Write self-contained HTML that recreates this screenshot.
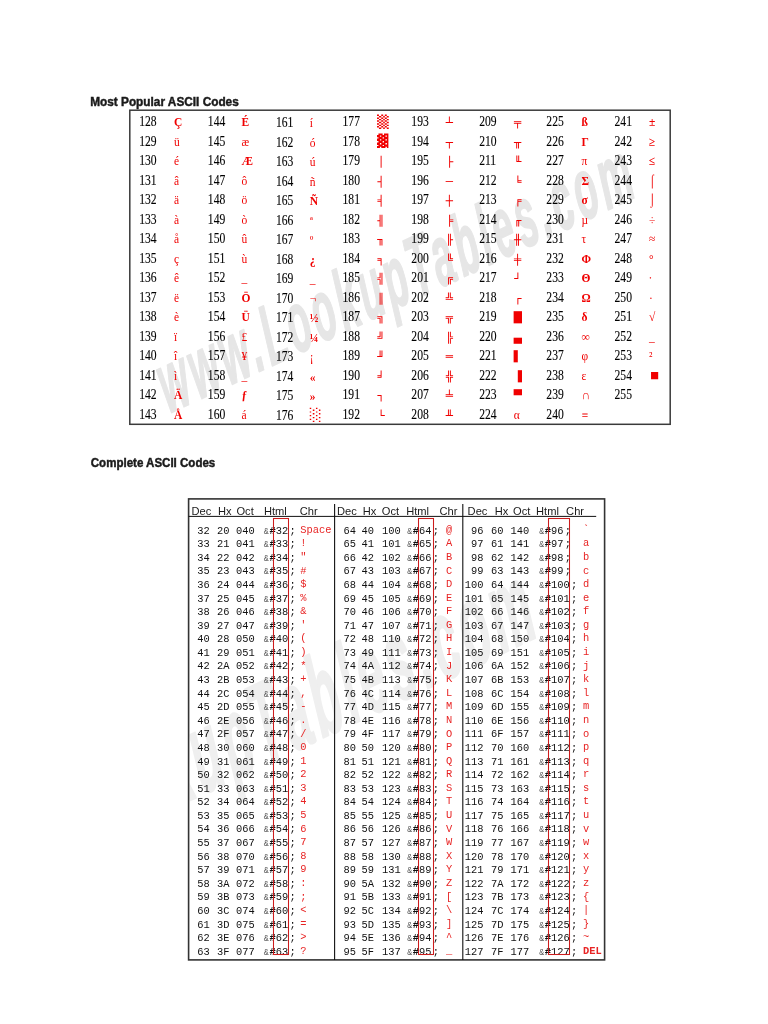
<!DOCTYPE html>
<html><head><meta charset="utf-8"><title>ASCII Codes</title><style>html,body{margin:0;padding:0;background:#fff;overflow:hidden}svg{display:block}.c0{font-family:'Liberation Sans',sans-serif;font-size:12.4px;font-weight:bold;fill:#1a1a1a}.c1{font-family:'Liberation Serif',serif;font-size:13.6px;fill:#000}.c2{font-family:'Liberation Serif',serif;font-size:12.5px;font-weight:bold;fill:#f00000}.c3{font-family:'Liberation Serif',serif;font-size:12.5px;fill:#f00000}.c4{font-family:'DejaVu Sans Mono',monospace;font-size:13px;fill:#f00000}.c5{font-family:'DejaVu Sans Mono',monospace;font-size:12px;font-weight:bold;fill:#f00000}.c6{font-family:'DejaVu Sans Mono',monospace;font-size:13.5px;fill:#f00000}.c7{font-family:'DejaVu Sans Mono',monospace;font-size:12px;fill:#f00000}.c8{font-family:'Liberation Sans',sans-serif;font-size:11.6px;fill:#1a1a1a}.c9{font-family:'Liberation Mono',monospace;font-size:11.5px;text-anchor:end;fill:#111}.c10{font-family:'Liberation Mono',monospace;font-size:11.5px;fill:#111}.c11{font-family:'Liberation Mono',monospace;font-size:9.2px;fill:#555}.c12{font-family:'Liberation Mono',monospace;font-size:11.5px;font-weight:bold;fill:#111}.c13{font-family:'Liberation Mono',monospace;font-size:11.5px;fill:#e82424}.c14{font-family:'Liberation Mono',monospace;font-size:11.5px;font-weight:bold;fill:#e82424}</style></head><body>
<svg width="768" height="1024" viewBox="0 0 768 1024">
<text transform="translate(168.4 413.8) rotate(-24.9) skewX(-7) scale(0.4401 0.978)" textLength="1176.4" lengthAdjust="spacing" style="font-family:'Liberation Sans',sans-serif;font-size:86px;font-weight:bold;font-style:italic" fill="#e6e6e6" stroke="#e6e6e6" stroke-width="2" stroke-linejoin="round">www.LookupTables.com</text>
<defs><clipPath id="c2"><rect x="189.4" y="499.7" width="414.4" height="459.4"/></clipPath></defs>
<g clip-path="url(#c2)"><text transform="translate(-46.4 911.4) rotate(-25.2) skewX(-7) scale(0.5513 1.294)" textLength="1176.4" lengthAdjust="spacing" style="font-family:'Liberation Sans',sans-serif;font-size:86px;font-weight:bold;font-style:italic" fill="#efefef" stroke="#efefef" stroke-width="2" stroke-linejoin="round">www.LookupTables.com</text></g>
<text transform="translate(90.18 106.30) scale(0.953 1.0)" class="c0" stroke="#1a1a1a" stroke-width="0.45">Most Popular ASCII Codes</text>
<text transform="translate(90.78 467.30) scale(0.93 1.0)" class="c0" stroke="#1a1a1a" stroke-width="0.45">Complete ASCII Codes</text>
<rect x="129.8" y="110.2" width="540.40" height="314.10" fill="none" stroke="#3a3a3a" stroke-width="1.5"/>
<text transform="translate(139.25 126.30) scale(0.855 1.0)" class="c1" stroke="#000" stroke-width="0.1">128</text>
<text transform="translate(174.00 126.30) scale(0.92 1.0)" class="c2">Ç</text>
<text transform="translate(139.25 145.79) scale(0.855 1.0)" class="c1" stroke="#000" stroke-width="0.1">129</text>
<text transform="translate(174.00 145.79) scale(0.92 1.0)" class="c3">ü</text>
<text transform="translate(139.25 165.28) scale(0.855 1.0)" class="c1" stroke="#000" stroke-width="0.1">130</text>
<text transform="translate(174.00 165.28) scale(0.92 1.0)" class="c3">é</text>
<text transform="translate(139.25 184.77) scale(0.855 1.0)" class="c1" stroke="#000" stroke-width="0.1">131</text>
<text transform="translate(174.00 184.77) scale(0.92 1.0)" class="c3">â</text>
<text transform="translate(139.25 204.26) scale(0.855 1.0)" class="c1" stroke="#000" stroke-width="0.1">132</text>
<text transform="translate(174.00 204.26) scale(0.92 1.0)" class="c3">ä</text>
<text transform="translate(139.25 223.75) scale(0.855 1.0)" class="c1" stroke="#000" stroke-width="0.1">133</text>
<text transform="translate(174.00 223.75) scale(0.92 1.0)" class="c3">à</text>
<text transform="translate(139.25 243.24) scale(0.855 1.0)" class="c1" stroke="#000" stroke-width="0.1">134</text>
<text transform="translate(174.00 243.24) scale(0.92 1.0)" class="c3">å</text>
<text transform="translate(139.25 262.73) scale(0.855 1.0)" class="c1" stroke="#000" stroke-width="0.1">135</text>
<text transform="translate(174.00 262.73) scale(0.92 1.0)" class="c3">ç</text>
<text transform="translate(139.25 282.22) scale(0.855 1.0)" class="c1" stroke="#000" stroke-width="0.1">136</text>
<text transform="translate(174.00 282.22) scale(0.92 1.0)" class="c3">ê</text>
<text transform="translate(139.25 301.71) scale(0.855 1.0)" class="c1" stroke="#000" stroke-width="0.1">137</text>
<text transform="translate(174.00 301.71) scale(0.92 1.0)" class="c3">ë</text>
<text transform="translate(139.25 321.20) scale(0.855 1.0)" class="c1" stroke="#000" stroke-width="0.1">138</text>
<text transform="translate(174.00 321.20) scale(0.92 1.0)" class="c3">è</text>
<text transform="translate(139.25 340.69) scale(0.855 1.0)" class="c1" stroke="#000" stroke-width="0.1">139</text>
<text transform="translate(174.00 340.69) scale(0.92 1.0)" class="c3">ï</text>
<text transform="translate(139.25 360.18) scale(0.855 1.0)" class="c1" stroke="#000" stroke-width="0.1">140</text>
<text transform="translate(174.00 360.18) scale(0.92 1.0)" class="c3">î</text>
<text transform="translate(139.25 379.67) scale(0.855 1.0)" class="c1" stroke="#000" stroke-width="0.1">141</text>
<text transform="translate(174.00 379.67) scale(0.92 1.0)" class="c3">ì</text>
<text transform="translate(139.25 399.16) scale(0.855 1.0)" class="c1" stroke="#000" stroke-width="0.1">142</text>
<text transform="translate(174.00 399.16) scale(0.92 1.0)" class="c2">Ä</text>
<text transform="translate(139.25 418.65) scale(0.855 1.0)" class="c1" stroke="#000" stroke-width="0.1">143</text>
<text transform="translate(174.00 418.65) scale(0.92 1.0)" class="c2">Å</text>
<text transform="translate(207.85 126.30) scale(0.855 1.0)" class="c1" stroke="#000" stroke-width="0.1">144</text>
<text transform="translate(241.40 126.30) scale(0.92 1.0)" class="c2">É</text>
<text transform="translate(207.85 145.79) scale(0.855 1.0)" class="c1" stroke="#000" stroke-width="0.1">145</text>
<text transform="translate(241.40 145.79) scale(0.92 1.0)" class="c3">æ</text>
<text transform="translate(207.85 165.28) scale(0.855 1.0)" class="c1" stroke="#000" stroke-width="0.1">146</text>
<text transform="translate(241.40 165.28) scale(0.92 1.0)" class="c2">Æ</text>
<text transform="translate(207.85 184.77) scale(0.855 1.0)" class="c1" stroke="#000" stroke-width="0.1">147</text>
<text transform="translate(241.40 184.77) scale(0.92 1.0)" class="c3">ô</text>
<text transform="translate(207.85 204.26) scale(0.855 1.0)" class="c1" stroke="#000" stroke-width="0.1">148</text>
<text transform="translate(241.40 204.26) scale(0.92 1.0)" class="c3">ö</text>
<text transform="translate(207.85 223.75) scale(0.855 1.0)" class="c1" stroke="#000" stroke-width="0.1">149</text>
<text transform="translate(241.40 223.75) scale(0.92 1.0)" class="c3">ò</text>
<text transform="translate(207.85 243.24) scale(0.855 1.0)" class="c1" stroke="#000" stroke-width="0.1">150</text>
<text transform="translate(241.40 243.24) scale(0.92 1.0)" class="c3">û</text>
<text transform="translate(207.85 262.73) scale(0.855 1.0)" class="c1" stroke="#000" stroke-width="0.1">151</text>
<text transform="translate(241.40 262.73) scale(0.92 1.0)" class="c3">ù</text>
<text transform="translate(207.85 282.22) scale(0.855 1.0)" class="c1" stroke="#000" stroke-width="0.1">152</text>
<text transform="translate(241.40 282.22) scale(0.92 1.0)" class="c3">_</text>
<text transform="translate(207.85 301.71) scale(0.855 1.0)" class="c1" stroke="#000" stroke-width="0.1">153</text>
<text transform="translate(241.40 301.71) scale(0.92 1.0)" class="c2">Ö</text>
<text transform="translate(207.85 321.20) scale(0.855 1.0)" class="c1" stroke="#000" stroke-width="0.1">154</text>
<text transform="translate(241.40 321.20) scale(0.92 1.0)" class="c2">Ü</text>
<text transform="translate(207.85 340.69) scale(0.855 1.0)" class="c1" stroke="#000" stroke-width="0.1">156</text>
<text transform="translate(241.40 340.69) scale(0.92 1.0)" class="c3">£</text>
<text transform="translate(207.85 360.18) scale(0.855 1.0)" class="c1" stroke="#000" stroke-width="0.1">157</text>
<text transform="translate(241.40 360.18) scale(0.92 1.0)" class="c3">¥</text>
<text transform="translate(207.85 379.67) scale(0.855 1.0)" class="c1" stroke="#000" stroke-width="0.1">158</text>
<text transform="translate(241.40 379.67) scale(0.92 1.0)" class="c3">_</text>
<text transform="translate(207.85 399.16) scale(0.855 1.0)" class="c1" stroke="#000" stroke-width="0.1">159</text>
<text transform="translate(241.40 399.16) scale(0.92 1.0)" class="c2">ƒ</text>
<text transform="translate(207.85 418.65) scale(0.855 1.0)" class="c1" stroke="#000" stroke-width="0.1">160</text>
<text transform="translate(241.40 418.65) scale(0.92 1.0)" class="c3">á</text>
<text transform="translate(275.95 127.30) scale(0.855 1.0)" class="c1" stroke="#000" stroke-width="0.1">161</text>
<text transform="translate(309.80 127.30) scale(0.92 1.0)" class="c3">í</text>
<text transform="translate(275.95 146.79) scale(0.855 1.0)" class="c1" stroke="#000" stroke-width="0.1">162</text>
<text transform="translate(309.80 146.79) scale(0.92 1.0)" class="c3">ó</text>
<text transform="translate(275.95 166.28) scale(0.855 1.0)" class="c1" stroke="#000" stroke-width="0.1">163</text>
<text transform="translate(309.80 166.28) scale(0.92 1.0)" class="c3">ú</text>
<text transform="translate(275.95 185.77) scale(0.855 1.0)" class="c1" stroke="#000" stroke-width="0.1">164</text>
<text transform="translate(309.80 185.77) scale(0.92 1.0)" class="c3">ñ</text>
<text transform="translate(275.95 205.26) scale(0.855 1.0)" class="c1" stroke="#000" stroke-width="0.1">165</text>
<text transform="translate(309.80 205.26) scale(0.92 1.0)" class="c2">Ñ</text>
<text transform="translate(275.95 224.75) scale(0.855 1.0)" class="c1" stroke="#000" stroke-width="0.1">166</text>
<text transform="translate(309.80 224.75) scale(0.92 1.0)" class="c3">ª</text>
<text transform="translate(275.95 244.24) scale(0.855 1.0)" class="c1" stroke="#000" stroke-width="0.1">167</text>
<text transform="translate(309.80 244.24) scale(0.92 1.0)" class="c3">º</text>
<text transform="translate(275.95 263.73) scale(0.855 1.0)" class="c1" stroke="#000" stroke-width="0.1">168</text>
<text transform="translate(309.80 263.73) scale(0.92 1.0)" class="c2">¿</text>
<text transform="translate(275.95 283.22) scale(0.855 1.0)" class="c1" stroke="#000" stroke-width="0.1">169</text>
<text transform="translate(309.80 283.22) scale(0.92 1.0)" class="c3">_</text>
<text transform="translate(275.95 302.71) scale(0.855 1.0)" class="c1" stroke="#000" stroke-width="0.1">170</text>
<text transform="translate(309.80 302.71) scale(0.92 1.0)" class="c3">¬</text>
<text transform="translate(275.95 322.20) scale(0.855 1.0)" class="c1" stroke="#000" stroke-width="0.1">171</text>
<text transform="translate(309.80 322.20) scale(0.92 1.0)" class="c2">½</text>
<text transform="translate(275.95 341.69) scale(0.855 1.0)" class="c1" stroke="#000" stroke-width="0.1">172</text>
<text transform="translate(309.80 341.69) scale(0.92 1.0)" class="c2">¼</text>
<text transform="translate(275.95 361.18) scale(0.855 1.0)" class="c1" stroke="#000" stroke-width="0.1">173</text>
<text transform="translate(309.80 361.18) scale(0.92 1.0)" class="c3">¡</text>
<text transform="translate(275.95 380.67) scale(0.855 1.0)" class="c1" stroke="#000" stroke-width="0.1">174</text>
<text transform="translate(309.80 380.67) scale(0.92 1.0)" class="c2">«</text>
<text transform="translate(275.95 400.16) scale(0.855 1.0)" class="c1" stroke="#000" stroke-width="0.1">175</text>
<text transform="translate(309.80 400.16) scale(0.92 1.0)" class="c2">»</text>
<text transform="translate(275.95 419.65) scale(0.855 1.0)" class="c1" stroke="#000" stroke-width="0.1">176</text>
<text transform="translate(309.80 419.15) scale(1.5 0.95)" class="c4">░</text>
<text transform="translate(342.55 126.30) scale(0.855 1.0)" class="c1" stroke="#000" stroke-width="0.1">177</text>
<text transform="translate(376.90 125.80) scale(1.5 0.95)" class="c4">▒</text>
<text transform="translate(342.55 145.79) scale(0.855 1.0)" class="c1" stroke="#000" stroke-width="0.1">178</text>
<text transform="translate(376.90 145.29) scale(1.5 0.95)" class="c4">▓</text>
<text transform="translate(342.55 165.28) scale(0.855 1.0)" class="c1" stroke="#000" stroke-width="0.1">179</text>
<text transform="translate(377.20 165.28) scale(1.0 0.845)" class="c5">│</text>
<text transform="translate(342.55 184.77) scale(0.855 1.0)" class="c1" stroke="#000" stroke-width="0.1">180</text>
<text transform="translate(377.20 184.77) scale(1.0 0.845)" class="c5">┤</text>
<text transform="translate(342.55 204.26) scale(0.855 1.0)" class="c1" stroke="#000" stroke-width="0.1">181</text>
<text transform="translate(377.20 204.26) scale(1.0 0.845)" class="c5">╡</text>
<text transform="translate(342.55 223.75) scale(0.855 1.0)" class="c1" stroke="#000" stroke-width="0.1">182</text>
<text transform="translate(377.20 223.75) scale(1.0 0.845)" class="c5">╢</text>
<text transform="translate(342.55 243.24) scale(0.855 1.0)" class="c1" stroke="#000" stroke-width="0.1">183</text>
<text transform="translate(377.20 243.24) scale(1.0 0.845)" class="c5">╖</text>
<text transform="translate(342.55 262.73) scale(0.855 1.0)" class="c1" stroke="#000" stroke-width="0.1">184</text>
<text transform="translate(377.20 262.73) scale(1.0 0.845)" class="c5">╕</text>
<text transform="translate(342.55 282.22) scale(0.855 1.0)" class="c1" stroke="#000" stroke-width="0.1">185</text>
<text transform="translate(377.20 282.22) scale(1.0 0.845)" class="c5">╣</text>
<text transform="translate(342.55 301.71) scale(0.855 1.0)" class="c1" stroke="#000" stroke-width="0.1">186</text>
<text transform="translate(377.20 301.71) scale(1.0 0.845)" class="c5">║</text>
<text transform="translate(342.55 321.20) scale(0.855 1.0)" class="c1" stroke="#000" stroke-width="0.1">187</text>
<text transform="translate(377.20 321.20) scale(1.0 0.845)" class="c5">╗</text>
<text transform="translate(342.55 340.69) scale(0.855 1.0)" class="c1" stroke="#000" stroke-width="0.1">188</text>
<text transform="translate(377.20 340.69) scale(1.0 0.845)" class="c5">╝</text>
<text transform="translate(342.55 360.18) scale(0.855 1.0)" class="c1" stroke="#000" stroke-width="0.1">189</text>
<text transform="translate(377.20 360.18) scale(1.0 0.845)" class="c5">╜</text>
<text transform="translate(342.55 379.67) scale(0.855 1.0)" class="c1" stroke="#000" stroke-width="0.1">190</text>
<text transform="translate(377.20 379.67) scale(1.0 0.845)" class="c5">╛</text>
<text transform="translate(342.55 399.16) scale(0.855 1.0)" class="c1" stroke="#000" stroke-width="0.1">191</text>
<text transform="translate(377.20 399.16) scale(1.0 0.845)" class="c5">┐</text>
<text transform="translate(342.55 418.65) scale(0.855 1.0)" class="c1" stroke="#000" stroke-width="0.1">192</text>
<text transform="translate(377.20 418.65) scale(1.0 0.845)" class="c5">└</text>
<text transform="translate(411.35 126.30) scale(0.855 1.0)" class="c1" stroke="#000" stroke-width="0.1">193</text>
<text transform="translate(445.80 126.30) scale(1.0 0.845)" class="c5">┴</text>
<text transform="translate(411.35 145.79) scale(0.855 1.0)" class="c1" stroke="#000" stroke-width="0.1">194</text>
<text transform="translate(445.80 145.79) scale(1.0 0.845)" class="c5">┬</text>
<text transform="translate(411.35 165.28) scale(0.855 1.0)" class="c1" stroke="#000" stroke-width="0.1">195</text>
<text transform="translate(445.80 165.28) scale(1.0 0.845)" class="c5">├</text>
<text transform="translate(411.35 184.77) scale(0.855 1.0)" class="c1" stroke="#000" stroke-width="0.1">196</text>
<text transform="translate(445.80 184.77) scale(1.0 0.845)" class="c5">─</text>
<text transform="translate(411.35 204.26) scale(0.855 1.0)" class="c1" stroke="#000" stroke-width="0.1">197</text>
<text transform="translate(445.80 204.26) scale(1.0 0.845)" class="c5">┼</text>
<text transform="translate(411.35 223.75) scale(0.855 1.0)" class="c1" stroke="#000" stroke-width="0.1">198</text>
<text transform="translate(445.80 223.75) scale(1.0 0.845)" class="c5">╞</text>
<text transform="translate(411.35 243.24) scale(0.855 1.0)" class="c1" stroke="#000" stroke-width="0.1">199</text>
<text transform="translate(445.80 243.24) scale(1.0 0.845)" class="c5">╟</text>
<text transform="translate(411.35 262.73) scale(0.855 1.0)" class="c1" stroke="#000" stroke-width="0.1">200</text>
<text transform="translate(445.80 262.73) scale(1.0 0.845)" class="c5">╚</text>
<text transform="translate(411.35 282.22) scale(0.855 1.0)" class="c1" stroke="#000" stroke-width="0.1">201</text>
<text transform="translate(445.80 282.22) scale(1.0 0.845)" class="c5">╔</text>
<text transform="translate(411.35 301.71) scale(0.855 1.0)" class="c1" stroke="#000" stroke-width="0.1">202</text>
<text transform="translate(445.80 301.71) scale(1.0 0.845)" class="c5">╩</text>
<text transform="translate(411.35 321.20) scale(0.855 1.0)" class="c1" stroke="#000" stroke-width="0.1">203</text>
<text transform="translate(445.80 321.20) scale(1.0 0.845)" class="c5">╦</text>
<text transform="translate(411.35 340.69) scale(0.855 1.0)" class="c1" stroke="#000" stroke-width="0.1">204</text>
<text transform="translate(445.80 340.69) scale(1.0 0.845)" class="c5">╠</text>
<text transform="translate(411.35 360.18) scale(0.855 1.0)" class="c1" stroke="#000" stroke-width="0.1">205</text>
<text transform="translate(445.80 360.18) scale(1.0 0.845)" class="c5">═</text>
<text transform="translate(411.35 379.67) scale(0.855 1.0)" class="c1" stroke="#000" stroke-width="0.1">206</text>
<text transform="translate(445.80 379.67) scale(1.0 0.845)" class="c5">╬</text>
<text transform="translate(411.35 399.16) scale(0.855 1.0)" class="c1" stroke="#000" stroke-width="0.1">207</text>
<text transform="translate(445.80 399.16) scale(1.0 0.845)" class="c5">╧</text>
<text transform="translate(411.35 418.65) scale(0.855 1.0)" class="c1" stroke="#000" stroke-width="0.1">208</text>
<text transform="translate(445.80 418.65) scale(1.0 0.845)" class="c5">╨</text>
<text transform="translate(479.15 126.30) scale(0.855 1.0)" class="c1" stroke="#000" stroke-width="0.1">209</text>
<text transform="translate(514.10 126.30) scale(1.0 0.845)" class="c5">╤</text>
<text transform="translate(479.15 145.79) scale(0.855 1.0)" class="c1" stroke="#000" stroke-width="0.1">210</text>
<text transform="translate(514.10 145.79) scale(1.0 0.845)" class="c5">╥</text>
<text transform="translate(479.15 165.28) scale(0.855 1.0)" class="c1" stroke="#000" stroke-width="0.1">211</text>
<text transform="translate(514.10 165.28) scale(1.0 0.845)" class="c5">╙</text>
<text transform="translate(479.15 184.77) scale(0.855 1.0)" class="c1" stroke="#000" stroke-width="0.1">212</text>
<text transform="translate(514.10 184.77) scale(1.0 0.845)" class="c5">╘</text>
<text transform="translate(479.15 204.26) scale(0.855 1.0)" class="c1" stroke="#000" stroke-width="0.1">213</text>
<text transform="translate(514.10 204.26) scale(1.0 0.845)" class="c5">╒</text>
<text transform="translate(479.15 223.75) scale(0.855 1.0)" class="c1" stroke="#000" stroke-width="0.1">214</text>
<text transform="translate(514.10 223.75) scale(1.0 0.845)" class="c5">╓</text>
<text transform="translate(479.15 243.24) scale(0.855 1.0)" class="c1" stroke="#000" stroke-width="0.1">215</text>
<text transform="translate(514.10 243.24) scale(1.0 0.845)" class="c5">╫</text>
<text transform="translate(479.15 262.73) scale(0.855 1.0)" class="c1" stroke="#000" stroke-width="0.1">216</text>
<text transform="translate(514.10 262.73) scale(1.0 0.845)" class="c5">╪</text>
<text transform="translate(479.15 282.22) scale(0.855 1.0)" class="c1" stroke="#000" stroke-width="0.1">217</text>
<text transform="translate(514.10 282.22) scale(1.0 0.845)" class="c5">┘</text>
<text transform="translate(479.15 301.71) scale(0.855 1.0)" class="c1" stroke="#000" stroke-width="0.1">218</text>
<text transform="translate(514.10 301.71) scale(1.0 0.845)" class="c5">┌</text>
<text transform="translate(479.15 321.20) scale(0.855 1.0)" class="c1" stroke="#000" stroke-width="0.1">219</text>
<text transform="translate(513.80 321.20) scale(1.0 0.76)" class="c6">█</text>
<text transform="translate(479.15 340.69) scale(0.855 1.0)" class="c1" stroke="#000" stroke-width="0.1">220</text>
<text transform="translate(513.80 340.69) scale(1.0 0.76)" class="c6">▄</text>
<text transform="translate(479.15 360.18) scale(0.855 1.0)" class="c1" stroke="#000" stroke-width="0.1">221</text>
<text transform="translate(513.80 360.18) scale(1.0 0.76)" class="c6">▌</text>
<text transform="translate(479.15 379.67) scale(0.855 1.0)" class="c1" stroke="#000" stroke-width="0.1">222</text>
<text transform="translate(513.80 379.67) scale(1.0 0.76)" class="c6">▐</text>
<text transform="translate(479.15 399.16) scale(0.855 1.0)" class="c1" stroke="#000" stroke-width="0.1">223</text>
<text transform="translate(513.80 399.16) scale(1.0 0.76)" class="c6">▀</text>
<text transform="translate(479.15 418.65) scale(0.855 1.0)" class="c1" stroke="#000" stroke-width="0.1">224</text>
<text transform="translate(513.80 418.65) scale(0.92 1.0)" class="c3">α</text>
<text transform="translate(546.35 126.30) scale(0.855 1.0)" class="c1" stroke="#000" stroke-width="0.1">225</text>
<text transform="translate(581.50 126.30) scale(0.92 1.0)" class="c2">ß</text>
<text transform="translate(546.35 145.79) scale(0.855 1.0)" class="c1" stroke="#000" stroke-width="0.1">226</text>
<text transform="translate(581.50 145.79) scale(0.92 1.0)" class="c2">Γ</text>
<text transform="translate(546.35 165.28) scale(0.855 1.0)" class="c1" stroke="#000" stroke-width="0.1">227</text>
<text transform="translate(581.50 165.28) scale(0.92 1.0)" class="c3">π</text>
<text transform="translate(546.35 184.77) scale(0.855 1.0)" class="c1" stroke="#000" stroke-width="0.1">228</text>
<text transform="translate(581.50 184.77) scale(0.92 1.0)" class="c2">Σ</text>
<text transform="translate(546.35 204.26) scale(0.855 1.0)" class="c1" stroke="#000" stroke-width="0.1">229</text>
<text transform="translate(581.50 204.26) scale(0.92 1.0)" class="c2">σ</text>
<text transform="translate(546.35 223.75) scale(0.855 1.0)" class="c1" stroke="#000" stroke-width="0.1">230</text>
<text transform="translate(581.50 223.75) scale(0.92 1.0)" class="c3">µ</text>
<text transform="translate(546.35 243.24) scale(0.855 1.0)" class="c1" stroke="#000" stroke-width="0.1">231</text>
<text transform="translate(581.50 243.24) scale(0.92 1.0)" class="c3">τ</text>
<text transform="translate(546.35 262.73) scale(0.855 1.0)" class="c1" stroke="#000" stroke-width="0.1">232</text>
<text transform="translate(581.50 262.73) scale(0.92 1.0)" class="c2">Φ</text>
<text transform="translate(546.35 282.22) scale(0.855 1.0)" class="c1" stroke="#000" stroke-width="0.1">233</text>
<text transform="translate(581.50 282.22) scale(0.92 1.0)" class="c2">Θ</text>
<text transform="translate(546.35 301.71) scale(0.855 1.0)" class="c1" stroke="#000" stroke-width="0.1">234</text>
<text transform="translate(581.50 301.71) scale(0.92 1.0)" class="c2">Ω</text>
<text transform="translate(546.35 321.20) scale(0.855 1.0)" class="c1" stroke="#000" stroke-width="0.1">235</text>
<text transform="translate(581.50 321.20) scale(0.92 1.0)" class="c2">δ</text>
<text transform="translate(546.35 340.69) scale(0.855 1.0)" class="c1" stroke="#000" stroke-width="0.1">236</text>
<text transform="translate(581.50 340.69) scale(0.92 1.0)" class="c2">∞</text>
<text transform="translate(546.35 360.18) scale(0.855 1.0)" class="c1" stroke="#000" stroke-width="0.1">237</text>
<text transform="translate(581.50 360.18) scale(0.92 1.0)" class="c3">φ</text>
<text transform="translate(546.35 379.67) scale(0.855 1.0)" class="c1" stroke="#000" stroke-width="0.1">238</text>
<text transform="translate(581.50 379.67) scale(0.92 1.0)" class="c3">ε</text>
<text transform="translate(546.35 399.16) scale(0.855 1.0)" class="c1" stroke="#000" stroke-width="0.1">239</text>
<text transform="translate(581.50 399.16) scale(0.92 1.0)" class="c3">∩</text>
<text transform="translate(546.35 418.65) scale(0.855 1.0)" class="c1" stroke="#000" stroke-width="0.1">240</text>
<text transform="translate(581.50 418.65) scale(0.92 1.0)" class="c3">≡</text>
<text transform="translate(614.55 126.30) scale(0.855 1.0)" class="c1" stroke="#000" stroke-width="0.1">241</text>
<text transform="translate(649.00 126.30) scale(0.92 1.0)" class="c2">±</text>
<text transform="translate(614.55 145.79) scale(0.855 1.0)" class="c1" stroke="#000" stroke-width="0.1">242</text>
<text transform="translate(649.00 145.79) scale(0.92 1.0)" class="c2">≥</text>
<text transform="translate(614.55 165.28) scale(0.855 1.0)" class="c1" stroke="#000" stroke-width="0.1">243</text>
<text transform="translate(649.00 165.28) scale(0.92 1.0)" class="c2">≤</text>
<text transform="translate(614.55 184.77) scale(0.855 1.0)" class="c1" stroke="#000" stroke-width="0.1">244</text>
<text transform="translate(649.00 184.77) scale(0.92 1.0)" class="c3">⌠</text>
<text transform="translate(614.55 204.26) scale(0.855 1.0)" class="c1" stroke="#000" stroke-width="0.1">245</text>
<text transform="translate(649.00 204.26) scale(0.92 1.0)" class="c3">⌡</text>
<text transform="translate(614.55 223.75) scale(0.855 1.0)" class="c1" stroke="#000" stroke-width="0.1">246</text>
<text transform="translate(649.00 223.75) scale(0.92 1.0)" class="c3">÷</text>
<text transform="translate(614.55 243.24) scale(0.855 1.0)" class="c1" stroke="#000" stroke-width="0.1">247</text>
<text transform="translate(649.00 243.24) scale(0.92 1.0)" class="c3">≈</text>
<text transform="translate(614.55 262.73) scale(0.855 1.0)" class="c1" stroke="#000" stroke-width="0.1">248</text>
<text transform="translate(649.00 262.73) scale(0.92 1.0)" class="c3">°</text>
<text transform="translate(614.55 282.22) scale(0.855 1.0)" class="c1" stroke="#000" stroke-width="0.1">249</text>
<text transform="translate(649.00 282.22) scale(0.92 1.0)" class="c3">∙</text>
<text transform="translate(614.55 301.71) scale(0.855 1.0)" class="c1" stroke="#000" stroke-width="0.1">250</text>
<text transform="translate(649.00 301.71) scale(0.92 1.0)" class="c3">·</text>
<text transform="translate(614.55 321.20) scale(0.855 1.0)" class="c1" stroke="#000" stroke-width="0.1">251</text>
<text transform="translate(649.00 321.20) scale(0.92 1.0)" class="c3">√</text>
<text transform="translate(614.55 340.69) scale(0.855 1.0)" class="c1" stroke="#000" stroke-width="0.1">252</text>
<text transform="translate(649.00 340.69) scale(0.92 1.0)" class="c3">_</text>
<text transform="translate(614.55 360.18) scale(0.855 1.0)" class="c1" stroke="#000" stroke-width="0.1">253</text>
<text transform="translate(649.00 360.18) scale(0.92 1.0)" class="c3">²</text>
<text transform="translate(614.55 379.67) scale(0.855 1.0)" class="c1" stroke="#000" stroke-width="0.1">254</text>
<text x="651.00" y="378.67" class="c7">■</text>
<text transform="translate(614.55 399.16) scale(0.855 1.0)" class="c1" stroke="#000" stroke-width="0.1">255</text>
<rect x="188.6" y="498.9" width="416.00" height="461.00" fill="none" stroke="#333" stroke-width="1.6"/>
<line x1="188.6" y1="516.4" x2="596.2" y2="516.4" stroke="#111" stroke-width="1"/>
<line x1="334.6" y1="504" x2="334.6" y2="959.9" stroke="#111" stroke-width="1.1"/>
<line x1="462.8" y1="504" x2="462.8" y2="959.9" stroke="#111" stroke-width="1.1"/>
<text transform="translate(191.51 515.20) scale(0.96 1.0)" class="c8">Dec</text>
<text transform="translate(217.91 515.20) scale(0.96 1.0)" class="c8">Hx</text>
<text transform="translate(236.41 515.20) scale(0.96 1.0)" class="c8">Oct</text>
<text transform="translate(263.91 515.20) scale(0.96 1.0)" class="c8">Html</text>
<text transform="translate(299.71 515.20) scale(0.96 1.0)" class="c8">Chr</text>
<text transform="translate(336.91 515.20) scale(0.96 1.0)" class="c8">Dec</text>
<text transform="translate(362.71 515.20) scale(0.96 1.0)" class="c8">Hx</text>
<text transform="translate(381.81 515.20) scale(0.96 1.0)" class="c8">Oct</text>
<text transform="translate(406.21 515.20) scale(0.96 1.0)" class="c8">Html</text>
<text transform="translate(439.51 515.20) scale(0.96 1.0)" class="c8">Chr</text>
<text transform="translate(467.61 515.20) scale(0.96 1.0)" class="c8">Dec</text>
<text transform="translate(494.71 515.20) scale(0.96 1.0)" class="c8">Hx</text>
<text transform="translate(513.11 515.20) scale(0.96 1.0)" class="c8">Oct</text>
<text transform="translate(536.01 515.20) scale(0.96 1.0)" class="c8">Html</text>
<text transform="translate(566.11 515.20) scale(0.96 1.0)" class="c8">Chr</text>
<text transform="translate(209.80 533.60) scale(0.905 1.0)" class="c9">32</text>
<text transform="translate(217.00 533.60) scale(0.905 1.0)" class="c10">20</text>
<text transform="translate(236.00 533.60) scale(0.905 1.0)" class="c10">040</text>
<text transform="translate(263.80 533.60) scale(0.905 1.0)" class="c11">&amp;</text>
<text transform="translate(269.44 533.60) scale(0.905 1.0)" class="c12">#</text>
<text transform="translate(275.69 533.60) scale(0.905 1.0)" class="c10">32</text>
<text transform="translate(289.38 533.60) scale(0.905 1.0)" class="c10">;</text>
<text transform="translate(300.20 532.80) scale(0.905 1.0)" class="c13">Space</text>
<text transform="translate(209.80 547.18) scale(0.905 1.0)" class="c9">33</text>
<text transform="translate(217.00 547.18) scale(0.905 1.0)" class="c10">21</text>
<text transform="translate(236.00 547.18) scale(0.905 1.0)" class="c10">041</text>
<text transform="translate(263.80 547.18) scale(0.905 1.0)" class="c11">&amp;</text>
<text transform="translate(269.44 547.18) scale(0.905 1.0)" class="c12">#</text>
<text transform="translate(275.69 547.18) scale(0.905 1.0)" class="c10">33</text>
<text transform="translate(289.38 547.18) scale(0.905 1.0)" class="c10">;</text>
<text transform="translate(300.20 546.38) scale(0.905 1.0)" class="c13">!</text>
<text transform="translate(209.80 560.77) scale(0.905 1.0)" class="c9">34</text>
<text transform="translate(217.00 560.77) scale(0.905 1.0)" class="c10">22</text>
<text transform="translate(236.00 560.77) scale(0.905 1.0)" class="c10">042</text>
<text transform="translate(263.80 560.77) scale(0.905 1.0)" class="c11">&amp;</text>
<text transform="translate(269.44 560.77) scale(0.905 1.0)" class="c12">#</text>
<text transform="translate(275.69 560.77) scale(0.905 1.0)" class="c10">34</text>
<text transform="translate(289.38 560.77) scale(0.905 1.0)" class="c10">;</text>
<text transform="translate(300.20 559.97) scale(0.905 1.0)" class="c13">&quot;</text>
<text transform="translate(209.80 574.35) scale(0.905 1.0)" class="c9">35</text>
<text transform="translate(217.00 574.35) scale(0.905 1.0)" class="c10">23</text>
<text transform="translate(236.00 574.35) scale(0.905 1.0)" class="c10">043</text>
<text transform="translate(263.80 574.35) scale(0.905 1.0)" class="c11">&amp;</text>
<text transform="translate(269.44 574.35) scale(0.905 1.0)" class="c12">#</text>
<text transform="translate(275.69 574.35) scale(0.905 1.0)" class="c10">35</text>
<text transform="translate(289.38 574.35) scale(0.905 1.0)" class="c10">;</text>
<text transform="translate(300.20 573.55) scale(0.905 1.0)" class="c13">#</text>
<text transform="translate(209.80 587.94) scale(0.905 1.0)" class="c9">36</text>
<text transform="translate(217.00 587.94) scale(0.905 1.0)" class="c10">24</text>
<text transform="translate(236.00 587.94) scale(0.905 1.0)" class="c10">044</text>
<text transform="translate(263.80 587.94) scale(0.905 1.0)" class="c11">&amp;</text>
<text transform="translate(269.44 587.94) scale(0.905 1.0)" class="c12">#</text>
<text transform="translate(275.69 587.94) scale(0.905 1.0)" class="c10">36</text>
<text transform="translate(289.38 587.94) scale(0.905 1.0)" class="c10">;</text>
<text transform="translate(300.20 587.14) scale(0.905 1.0)" class="c13">$</text>
<text transform="translate(209.80 601.52) scale(0.905 1.0)" class="c9">37</text>
<text transform="translate(217.00 601.52) scale(0.905 1.0)" class="c10">25</text>
<text transform="translate(236.00 601.52) scale(0.905 1.0)" class="c10">045</text>
<text transform="translate(263.80 601.52) scale(0.905 1.0)" class="c11">&amp;</text>
<text transform="translate(269.44 601.52) scale(0.905 1.0)" class="c12">#</text>
<text transform="translate(275.69 601.52) scale(0.905 1.0)" class="c10">37</text>
<text transform="translate(289.38 601.52) scale(0.905 1.0)" class="c10">;</text>
<text transform="translate(300.20 600.72) scale(0.905 1.0)" class="c13">%</text>
<text transform="translate(209.80 615.10) scale(0.905 1.0)" class="c9">38</text>
<text transform="translate(217.00 615.10) scale(0.905 1.0)" class="c10">26</text>
<text transform="translate(236.00 615.10) scale(0.905 1.0)" class="c10">046</text>
<text transform="translate(263.80 615.10) scale(0.905 1.0)" class="c11">&amp;</text>
<text transform="translate(269.44 615.10) scale(0.905 1.0)" class="c12">#</text>
<text transform="translate(275.69 615.10) scale(0.905 1.0)" class="c10">38</text>
<text transform="translate(289.38 615.10) scale(0.905 1.0)" class="c10">;</text>
<text transform="translate(300.20 614.30) scale(0.905 1.0)" class="c13">&amp;</text>
<text transform="translate(209.80 628.69) scale(0.905 1.0)" class="c9">39</text>
<text transform="translate(217.00 628.69) scale(0.905 1.0)" class="c10">27</text>
<text transform="translate(236.00 628.69) scale(0.905 1.0)" class="c10">047</text>
<text transform="translate(263.80 628.69) scale(0.905 1.0)" class="c11">&amp;</text>
<text transform="translate(269.44 628.69) scale(0.905 1.0)" class="c12">#</text>
<text transform="translate(275.69 628.69) scale(0.905 1.0)" class="c10">39</text>
<text transform="translate(289.38 628.69) scale(0.905 1.0)" class="c10">;</text>
<text transform="translate(300.20 627.89) scale(0.905 1.0)" class="c13">&#x27;</text>
<text transform="translate(209.80 642.27) scale(0.905 1.0)" class="c9">40</text>
<text transform="translate(217.00 642.27) scale(0.905 1.0)" class="c10">28</text>
<text transform="translate(236.00 642.27) scale(0.905 1.0)" class="c10">050</text>
<text transform="translate(263.80 642.27) scale(0.905 1.0)" class="c11">&amp;</text>
<text transform="translate(269.44 642.27) scale(0.905 1.0)" class="c12">#</text>
<text transform="translate(275.69 642.27) scale(0.905 1.0)" class="c10">40</text>
<text transform="translate(289.38 642.27) scale(0.905 1.0)" class="c10">;</text>
<text transform="translate(300.20 641.47) scale(0.905 1.0)" class="c13">(</text>
<text transform="translate(209.80 655.86) scale(0.905 1.0)" class="c9">41</text>
<text transform="translate(217.00 655.86) scale(0.905 1.0)" class="c10">29</text>
<text transform="translate(236.00 655.86) scale(0.905 1.0)" class="c10">051</text>
<text transform="translate(263.80 655.86) scale(0.905 1.0)" class="c11">&amp;</text>
<text transform="translate(269.44 655.86) scale(0.905 1.0)" class="c12">#</text>
<text transform="translate(275.69 655.86) scale(0.905 1.0)" class="c10">41</text>
<text transform="translate(289.38 655.86) scale(0.905 1.0)" class="c10">;</text>
<text transform="translate(300.20 655.06) scale(0.905 1.0)" class="c13">)</text>
<text transform="translate(209.80 669.44) scale(0.905 1.0)" class="c9">42</text>
<text transform="translate(217.00 669.44) scale(0.905 1.0)" class="c10">2A</text>
<text transform="translate(236.00 669.44) scale(0.905 1.0)" class="c10">052</text>
<text transform="translate(263.80 669.44) scale(0.905 1.0)" class="c11">&amp;</text>
<text transform="translate(269.44 669.44) scale(0.905 1.0)" class="c12">#</text>
<text transform="translate(275.69 669.44) scale(0.905 1.0)" class="c10">42</text>
<text transform="translate(289.38 669.44) scale(0.905 1.0)" class="c10">;</text>
<text transform="translate(300.20 668.64) scale(0.905 1.0)" class="c13">*</text>
<text transform="translate(209.80 683.02) scale(0.905 1.0)" class="c9">43</text>
<text transform="translate(217.00 683.02) scale(0.905 1.0)" class="c10">2B</text>
<text transform="translate(236.00 683.02) scale(0.905 1.0)" class="c10">053</text>
<text transform="translate(263.80 683.02) scale(0.905 1.0)" class="c11">&amp;</text>
<text transform="translate(269.44 683.02) scale(0.905 1.0)" class="c12">#</text>
<text transform="translate(275.69 683.02) scale(0.905 1.0)" class="c10">43</text>
<text transform="translate(289.38 683.02) scale(0.905 1.0)" class="c10">;</text>
<text transform="translate(300.20 682.22) scale(0.905 1.0)" class="c13">+</text>
<text transform="translate(209.80 696.61) scale(0.905 1.0)" class="c9">44</text>
<text transform="translate(217.00 696.61) scale(0.905 1.0)" class="c10">2C</text>
<text transform="translate(236.00 696.61) scale(0.905 1.0)" class="c10">054</text>
<text transform="translate(263.80 696.61) scale(0.905 1.0)" class="c11">&amp;</text>
<text transform="translate(269.44 696.61) scale(0.905 1.0)" class="c12">#</text>
<text transform="translate(275.69 696.61) scale(0.905 1.0)" class="c10">44</text>
<text transform="translate(289.38 696.61) scale(0.905 1.0)" class="c10">;</text>
<text transform="translate(300.20 695.81) scale(0.905 1.0)" class="c13">,</text>
<text transform="translate(209.80 710.19) scale(0.905 1.0)" class="c9">45</text>
<text transform="translate(217.00 710.19) scale(0.905 1.0)" class="c10">2D</text>
<text transform="translate(236.00 710.19) scale(0.905 1.0)" class="c10">055</text>
<text transform="translate(263.80 710.19) scale(0.905 1.0)" class="c11">&amp;</text>
<text transform="translate(269.44 710.19) scale(0.905 1.0)" class="c12">#</text>
<text transform="translate(275.69 710.19) scale(0.905 1.0)" class="c10">45</text>
<text transform="translate(289.38 710.19) scale(0.905 1.0)" class="c10">;</text>
<text transform="translate(300.20 709.39) scale(0.905 1.0)" class="c13">-</text>
<text transform="translate(209.80 723.78) scale(0.905 1.0)" class="c9">46</text>
<text transform="translate(217.00 723.78) scale(0.905 1.0)" class="c10">2E</text>
<text transform="translate(236.00 723.78) scale(0.905 1.0)" class="c10">056</text>
<text transform="translate(263.80 723.78) scale(0.905 1.0)" class="c11">&amp;</text>
<text transform="translate(269.44 723.78) scale(0.905 1.0)" class="c12">#</text>
<text transform="translate(275.69 723.78) scale(0.905 1.0)" class="c10">46</text>
<text transform="translate(289.38 723.78) scale(0.905 1.0)" class="c10">;</text>
<text transform="translate(300.20 722.98) scale(0.905 1.0)" class="c13">.</text>
<text transform="translate(209.80 737.36) scale(0.905 1.0)" class="c9">47</text>
<text transform="translate(217.00 737.36) scale(0.905 1.0)" class="c10">2F</text>
<text transform="translate(236.00 737.36) scale(0.905 1.0)" class="c10">057</text>
<text transform="translate(263.80 737.36) scale(0.905 1.0)" class="c11">&amp;</text>
<text transform="translate(269.44 737.36) scale(0.905 1.0)" class="c12">#</text>
<text transform="translate(275.69 737.36) scale(0.905 1.0)" class="c10">47</text>
<text transform="translate(289.38 737.36) scale(0.905 1.0)" class="c10">;</text>
<text transform="translate(300.20 736.56) scale(0.905 1.0)" class="c13">/</text>
<text transform="translate(209.80 750.94) scale(0.905 1.0)" class="c9">48</text>
<text transform="translate(217.00 750.94) scale(0.905 1.0)" class="c10">30</text>
<text transform="translate(236.00 750.94) scale(0.905 1.0)" class="c10">060</text>
<text transform="translate(263.80 750.94) scale(0.905 1.0)" class="c11">&amp;</text>
<text transform="translate(269.44 750.94) scale(0.905 1.0)" class="c12">#</text>
<text transform="translate(275.69 750.94) scale(0.905 1.0)" class="c10">48</text>
<text transform="translate(289.38 750.94) scale(0.905 1.0)" class="c10">;</text>
<text transform="translate(300.20 750.14) scale(0.905 1.0)" class="c13">0</text>
<text transform="translate(209.80 764.53) scale(0.905 1.0)" class="c9">49</text>
<text transform="translate(217.00 764.53) scale(0.905 1.0)" class="c10">31</text>
<text transform="translate(236.00 764.53) scale(0.905 1.0)" class="c10">061</text>
<text transform="translate(263.80 764.53) scale(0.905 1.0)" class="c11">&amp;</text>
<text transform="translate(269.44 764.53) scale(0.905 1.0)" class="c12">#</text>
<text transform="translate(275.69 764.53) scale(0.905 1.0)" class="c10">49</text>
<text transform="translate(289.38 764.53) scale(0.905 1.0)" class="c10">;</text>
<text transform="translate(300.20 763.73) scale(0.905 1.0)" class="c13">1</text>
<text transform="translate(209.80 778.11) scale(0.905 1.0)" class="c9">50</text>
<text transform="translate(217.00 778.11) scale(0.905 1.0)" class="c10">32</text>
<text transform="translate(236.00 778.11) scale(0.905 1.0)" class="c10">062</text>
<text transform="translate(263.80 778.11) scale(0.905 1.0)" class="c11">&amp;</text>
<text transform="translate(269.44 778.11) scale(0.905 1.0)" class="c12">#</text>
<text transform="translate(275.69 778.11) scale(0.905 1.0)" class="c10">50</text>
<text transform="translate(289.38 778.11) scale(0.905 1.0)" class="c10">;</text>
<text transform="translate(300.20 777.31) scale(0.905 1.0)" class="c13">2</text>
<text transform="translate(209.80 791.70) scale(0.905 1.0)" class="c9">51</text>
<text transform="translate(217.00 791.70) scale(0.905 1.0)" class="c10">33</text>
<text transform="translate(236.00 791.70) scale(0.905 1.0)" class="c10">063</text>
<text transform="translate(263.80 791.70) scale(0.905 1.0)" class="c11">&amp;</text>
<text transform="translate(269.44 791.70) scale(0.905 1.0)" class="c12">#</text>
<text transform="translate(275.69 791.70) scale(0.905 1.0)" class="c10">51</text>
<text transform="translate(289.38 791.70) scale(0.905 1.0)" class="c10">;</text>
<text transform="translate(300.20 790.90) scale(0.905 1.0)" class="c13">3</text>
<text transform="translate(209.80 805.28) scale(0.905 1.0)" class="c9">52</text>
<text transform="translate(217.00 805.28) scale(0.905 1.0)" class="c10">34</text>
<text transform="translate(236.00 805.28) scale(0.905 1.0)" class="c10">064</text>
<text transform="translate(263.80 805.28) scale(0.905 1.0)" class="c11">&amp;</text>
<text transform="translate(269.44 805.28) scale(0.905 1.0)" class="c12">#</text>
<text transform="translate(275.69 805.28) scale(0.905 1.0)" class="c10">52</text>
<text transform="translate(289.38 805.28) scale(0.905 1.0)" class="c10">;</text>
<text transform="translate(300.20 804.48) scale(0.905 1.0)" class="c13">4</text>
<text transform="translate(209.80 818.86) scale(0.905 1.0)" class="c9">53</text>
<text transform="translate(217.00 818.86) scale(0.905 1.0)" class="c10">35</text>
<text transform="translate(236.00 818.86) scale(0.905 1.0)" class="c10">065</text>
<text transform="translate(263.80 818.86) scale(0.905 1.0)" class="c11">&amp;</text>
<text transform="translate(269.44 818.86) scale(0.905 1.0)" class="c12">#</text>
<text transform="translate(275.69 818.86) scale(0.905 1.0)" class="c10">53</text>
<text transform="translate(289.38 818.86) scale(0.905 1.0)" class="c10">;</text>
<text transform="translate(300.20 818.06) scale(0.905 1.0)" class="c13">5</text>
<text transform="translate(209.80 832.45) scale(0.905 1.0)" class="c9">54</text>
<text transform="translate(217.00 832.45) scale(0.905 1.0)" class="c10">36</text>
<text transform="translate(236.00 832.45) scale(0.905 1.0)" class="c10">066</text>
<text transform="translate(263.80 832.45) scale(0.905 1.0)" class="c11">&amp;</text>
<text transform="translate(269.44 832.45) scale(0.905 1.0)" class="c12">#</text>
<text transform="translate(275.69 832.45) scale(0.905 1.0)" class="c10">54</text>
<text transform="translate(289.38 832.45) scale(0.905 1.0)" class="c10">;</text>
<text transform="translate(300.20 831.65) scale(0.905 1.0)" class="c13">6</text>
<text transform="translate(209.80 846.03) scale(0.905 1.0)" class="c9">55</text>
<text transform="translate(217.00 846.03) scale(0.905 1.0)" class="c10">37</text>
<text transform="translate(236.00 846.03) scale(0.905 1.0)" class="c10">067</text>
<text transform="translate(263.80 846.03) scale(0.905 1.0)" class="c11">&amp;</text>
<text transform="translate(269.44 846.03) scale(0.905 1.0)" class="c12">#</text>
<text transform="translate(275.69 846.03) scale(0.905 1.0)" class="c10">55</text>
<text transform="translate(289.38 846.03) scale(0.905 1.0)" class="c10">;</text>
<text transform="translate(300.20 845.23) scale(0.905 1.0)" class="c13">7</text>
<text transform="translate(209.80 859.62) scale(0.905 1.0)" class="c9">56</text>
<text transform="translate(217.00 859.62) scale(0.905 1.0)" class="c10">38</text>
<text transform="translate(236.00 859.62) scale(0.905 1.0)" class="c10">070</text>
<text transform="translate(263.80 859.62) scale(0.905 1.0)" class="c11">&amp;</text>
<text transform="translate(269.44 859.62) scale(0.905 1.0)" class="c12">#</text>
<text transform="translate(275.69 859.62) scale(0.905 1.0)" class="c10">56</text>
<text transform="translate(289.38 859.62) scale(0.905 1.0)" class="c10">;</text>
<text transform="translate(300.20 858.82) scale(0.905 1.0)" class="c13">8</text>
<text transform="translate(209.80 873.20) scale(0.905 1.0)" class="c9">57</text>
<text transform="translate(217.00 873.20) scale(0.905 1.0)" class="c10">39</text>
<text transform="translate(236.00 873.20) scale(0.905 1.0)" class="c10">071</text>
<text transform="translate(263.80 873.20) scale(0.905 1.0)" class="c11">&amp;</text>
<text transform="translate(269.44 873.20) scale(0.905 1.0)" class="c12">#</text>
<text transform="translate(275.69 873.20) scale(0.905 1.0)" class="c10">57</text>
<text transform="translate(289.38 873.20) scale(0.905 1.0)" class="c10">;</text>
<text transform="translate(300.20 872.40) scale(0.905 1.0)" class="c13">9</text>
<text transform="translate(209.80 886.78) scale(0.905 1.0)" class="c9">58</text>
<text transform="translate(217.00 886.78) scale(0.905 1.0)" class="c10">3A</text>
<text transform="translate(236.00 886.78) scale(0.905 1.0)" class="c10">072</text>
<text transform="translate(263.80 886.78) scale(0.905 1.0)" class="c11">&amp;</text>
<text transform="translate(269.44 886.78) scale(0.905 1.0)" class="c12">#</text>
<text transform="translate(275.69 886.78) scale(0.905 1.0)" class="c10">58</text>
<text transform="translate(289.38 886.78) scale(0.905 1.0)" class="c10">;</text>
<text transform="translate(300.20 885.98) scale(0.905 1.0)" class="c13">:</text>
<text transform="translate(209.80 900.37) scale(0.905 1.0)" class="c9">59</text>
<text transform="translate(217.00 900.37) scale(0.905 1.0)" class="c10">3B</text>
<text transform="translate(236.00 900.37) scale(0.905 1.0)" class="c10">073</text>
<text transform="translate(263.80 900.37) scale(0.905 1.0)" class="c11">&amp;</text>
<text transform="translate(269.44 900.37) scale(0.905 1.0)" class="c12">#</text>
<text transform="translate(275.69 900.37) scale(0.905 1.0)" class="c10">59</text>
<text transform="translate(289.38 900.37) scale(0.905 1.0)" class="c10">;</text>
<text transform="translate(300.20 899.57) scale(0.905 1.0)" class="c13">;</text>
<text transform="translate(209.80 913.95) scale(0.905 1.0)" class="c9">60</text>
<text transform="translate(217.00 913.95) scale(0.905 1.0)" class="c10">3C</text>
<text transform="translate(236.00 913.95) scale(0.905 1.0)" class="c10">074</text>
<text transform="translate(263.80 913.95) scale(0.905 1.0)" class="c11">&amp;</text>
<text transform="translate(269.44 913.95) scale(0.905 1.0)" class="c12">#</text>
<text transform="translate(275.69 913.95) scale(0.905 1.0)" class="c10">60</text>
<text transform="translate(289.38 913.95) scale(0.905 1.0)" class="c10">;</text>
<text transform="translate(300.20 913.15) scale(0.905 1.0)" class="c13">&lt;</text>
<text transform="translate(209.80 927.54) scale(0.905 1.0)" class="c9">61</text>
<text transform="translate(217.00 927.54) scale(0.905 1.0)" class="c10">3D</text>
<text transform="translate(236.00 927.54) scale(0.905 1.0)" class="c10">075</text>
<text transform="translate(263.80 927.54) scale(0.905 1.0)" class="c11">&amp;</text>
<text transform="translate(269.44 927.54) scale(0.905 1.0)" class="c12">#</text>
<text transform="translate(275.69 927.54) scale(0.905 1.0)" class="c10">61</text>
<text transform="translate(289.38 927.54) scale(0.905 1.0)" class="c10">;</text>
<text transform="translate(300.20 926.74) scale(0.905 1.0)" class="c13">=</text>
<text transform="translate(209.80 941.12) scale(0.905 1.0)" class="c9">62</text>
<text transform="translate(217.00 941.12) scale(0.905 1.0)" class="c10">3E</text>
<text transform="translate(236.00 941.12) scale(0.905 1.0)" class="c10">076</text>
<text transform="translate(263.80 941.12) scale(0.905 1.0)" class="c11">&amp;</text>
<text transform="translate(269.44 941.12) scale(0.905 1.0)" class="c12">#</text>
<text transform="translate(275.69 941.12) scale(0.905 1.0)" class="c10">62</text>
<text transform="translate(289.38 941.12) scale(0.905 1.0)" class="c10">;</text>
<text transform="translate(300.20 940.32) scale(0.905 1.0)" class="c13">&gt;</text>
<text transform="translate(209.80 954.70) scale(0.905 1.0)" class="c9">63</text>
<text transform="translate(217.00 954.70) scale(0.905 1.0)" class="c10">3F</text>
<text transform="translate(236.00 954.70) scale(0.905 1.0)" class="c10">077</text>
<text transform="translate(263.80 954.70) scale(0.905 1.0)" class="c11">&amp;</text>
<text transform="translate(269.44 954.70) scale(0.905 1.0)" class="c12">#</text>
<text transform="translate(275.69 954.70) scale(0.905 1.0)" class="c10">63</text>
<text transform="translate(289.38 954.70) scale(0.905 1.0)" class="c10">;</text>
<text transform="translate(300.20 953.90) scale(0.905 1.0)" class="c13">?</text>
<text transform="translate(355.90 533.60) scale(0.905 1.0)" class="c9">64</text>
<text transform="translate(361.60 533.60) scale(0.905 1.0)" class="c10">40</text>
<text transform="translate(382.10 533.60) scale(0.905 1.0)" class="c10">100</text>
<text transform="translate(407.20 533.60) scale(0.905 1.0)" class="c11">&amp;</text>
<text transform="translate(412.84 533.60) scale(0.905 1.0)" class="c12">#</text>
<text transform="translate(419.09 533.60) scale(0.905 1.0)" class="c10">64</text>
<text transform="translate(432.78 533.60) scale(0.905 1.0)" class="c10">;</text>
<text transform="translate(446.00 532.80) scale(0.905 1.0)" class="c13">@</text>
<text transform="translate(355.90 547.18) scale(0.905 1.0)" class="c9">65</text>
<text transform="translate(361.60 547.18) scale(0.905 1.0)" class="c10">41</text>
<text transform="translate(382.10 547.18) scale(0.905 1.0)" class="c10">101</text>
<text transform="translate(407.20 547.18) scale(0.905 1.0)" class="c11">&amp;</text>
<text transform="translate(412.84 547.18) scale(0.905 1.0)" class="c12">#</text>
<text transform="translate(419.09 547.18) scale(0.905 1.0)" class="c10">65</text>
<text transform="translate(432.78 547.18) scale(0.905 1.0)" class="c10">;</text>
<text transform="translate(446.00 546.38) scale(0.905 1.0)" class="c13">A</text>
<text transform="translate(355.90 560.77) scale(0.905 1.0)" class="c9">66</text>
<text transform="translate(361.60 560.77) scale(0.905 1.0)" class="c10">42</text>
<text transform="translate(382.10 560.77) scale(0.905 1.0)" class="c10">102</text>
<text transform="translate(407.20 560.77) scale(0.905 1.0)" class="c11">&amp;</text>
<text transform="translate(412.84 560.77) scale(0.905 1.0)" class="c12">#</text>
<text transform="translate(419.09 560.77) scale(0.905 1.0)" class="c10">66</text>
<text transform="translate(432.78 560.77) scale(0.905 1.0)" class="c10">;</text>
<text transform="translate(446.00 559.97) scale(0.905 1.0)" class="c13">B</text>
<text transform="translate(355.90 574.35) scale(0.905 1.0)" class="c9">67</text>
<text transform="translate(361.60 574.35) scale(0.905 1.0)" class="c10">43</text>
<text transform="translate(382.10 574.35) scale(0.905 1.0)" class="c10">103</text>
<text transform="translate(407.20 574.35) scale(0.905 1.0)" class="c11">&amp;</text>
<text transform="translate(412.84 574.35) scale(0.905 1.0)" class="c12">#</text>
<text transform="translate(419.09 574.35) scale(0.905 1.0)" class="c10">67</text>
<text transform="translate(432.78 574.35) scale(0.905 1.0)" class="c10">;</text>
<text transform="translate(446.00 573.55) scale(0.905 1.0)" class="c13">C</text>
<text transform="translate(355.90 587.94) scale(0.905 1.0)" class="c9">68</text>
<text transform="translate(361.60 587.94) scale(0.905 1.0)" class="c10">44</text>
<text transform="translate(382.10 587.94) scale(0.905 1.0)" class="c10">104</text>
<text transform="translate(407.20 587.94) scale(0.905 1.0)" class="c11">&amp;</text>
<text transform="translate(412.84 587.94) scale(0.905 1.0)" class="c12">#</text>
<text transform="translate(419.09 587.94) scale(0.905 1.0)" class="c10">68</text>
<text transform="translate(432.78 587.94) scale(0.905 1.0)" class="c10">;</text>
<text transform="translate(446.00 587.14) scale(0.905 1.0)" class="c13">D</text>
<text transform="translate(355.90 601.52) scale(0.905 1.0)" class="c9">69</text>
<text transform="translate(361.60 601.52) scale(0.905 1.0)" class="c10">45</text>
<text transform="translate(382.10 601.52) scale(0.905 1.0)" class="c10">105</text>
<text transform="translate(407.20 601.52) scale(0.905 1.0)" class="c11">&amp;</text>
<text transform="translate(412.84 601.52) scale(0.905 1.0)" class="c12">#</text>
<text transform="translate(419.09 601.52) scale(0.905 1.0)" class="c10">69</text>
<text transform="translate(432.78 601.52) scale(0.905 1.0)" class="c10">;</text>
<text transform="translate(446.00 600.72) scale(0.905 1.0)" class="c13">E</text>
<text transform="translate(355.90 615.10) scale(0.905 1.0)" class="c9">70</text>
<text transform="translate(361.60 615.10) scale(0.905 1.0)" class="c10">46</text>
<text transform="translate(382.10 615.10) scale(0.905 1.0)" class="c10">106</text>
<text transform="translate(407.20 615.10) scale(0.905 1.0)" class="c11">&amp;</text>
<text transform="translate(412.84 615.10) scale(0.905 1.0)" class="c12">#</text>
<text transform="translate(419.09 615.10) scale(0.905 1.0)" class="c10">70</text>
<text transform="translate(432.78 615.10) scale(0.905 1.0)" class="c10">;</text>
<text transform="translate(446.00 614.30) scale(0.905 1.0)" class="c13">F</text>
<text transform="translate(355.90 628.69) scale(0.905 1.0)" class="c9">71</text>
<text transform="translate(361.60 628.69) scale(0.905 1.0)" class="c10">47</text>
<text transform="translate(382.10 628.69) scale(0.905 1.0)" class="c10">107</text>
<text transform="translate(407.20 628.69) scale(0.905 1.0)" class="c11">&amp;</text>
<text transform="translate(412.84 628.69) scale(0.905 1.0)" class="c12">#</text>
<text transform="translate(419.09 628.69) scale(0.905 1.0)" class="c10">71</text>
<text transform="translate(432.78 628.69) scale(0.905 1.0)" class="c10">;</text>
<text transform="translate(446.00 627.89) scale(0.905 1.0)" class="c13">G</text>
<text transform="translate(355.90 642.27) scale(0.905 1.0)" class="c9">72</text>
<text transform="translate(361.60 642.27) scale(0.905 1.0)" class="c10">48</text>
<text transform="translate(382.10 642.27) scale(0.905 1.0)" class="c10">110</text>
<text transform="translate(407.20 642.27) scale(0.905 1.0)" class="c11">&amp;</text>
<text transform="translate(412.84 642.27) scale(0.905 1.0)" class="c12">#</text>
<text transform="translate(419.09 642.27) scale(0.905 1.0)" class="c10">72</text>
<text transform="translate(432.78 642.27) scale(0.905 1.0)" class="c10">;</text>
<text transform="translate(446.00 641.47) scale(0.905 1.0)" class="c13">H</text>
<text transform="translate(355.90 655.86) scale(0.905 1.0)" class="c9">73</text>
<text transform="translate(361.60 655.86) scale(0.905 1.0)" class="c10">49</text>
<text transform="translate(382.10 655.86) scale(0.905 1.0)" class="c10">111</text>
<text transform="translate(407.20 655.86) scale(0.905 1.0)" class="c11">&amp;</text>
<text transform="translate(412.84 655.86) scale(0.905 1.0)" class="c12">#</text>
<text transform="translate(419.09 655.86) scale(0.905 1.0)" class="c10">73</text>
<text transform="translate(432.78 655.86) scale(0.905 1.0)" class="c10">;</text>
<text transform="translate(446.00 655.06) scale(0.905 1.0)" class="c13">I</text>
<text transform="translate(355.90 669.44) scale(0.905 1.0)" class="c9">74</text>
<text transform="translate(361.60 669.44) scale(0.905 1.0)" class="c10">4A</text>
<text transform="translate(382.10 669.44) scale(0.905 1.0)" class="c10">112</text>
<text transform="translate(407.20 669.44) scale(0.905 1.0)" class="c11">&amp;</text>
<text transform="translate(412.84 669.44) scale(0.905 1.0)" class="c12">#</text>
<text transform="translate(419.09 669.44) scale(0.905 1.0)" class="c10">74</text>
<text transform="translate(432.78 669.44) scale(0.905 1.0)" class="c10">;</text>
<text transform="translate(446.00 668.64) scale(0.905 1.0)" class="c13">J</text>
<text transform="translate(355.90 683.02) scale(0.905 1.0)" class="c9">75</text>
<text transform="translate(361.60 683.02) scale(0.905 1.0)" class="c10">4B</text>
<text transform="translate(382.10 683.02) scale(0.905 1.0)" class="c10">113</text>
<text transform="translate(407.20 683.02) scale(0.905 1.0)" class="c11">&amp;</text>
<text transform="translate(412.84 683.02) scale(0.905 1.0)" class="c12">#</text>
<text transform="translate(419.09 683.02) scale(0.905 1.0)" class="c10">75</text>
<text transform="translate(432.78 683.02) scale(0.905 1.0)" class="c10">;</text>
<text transform="translate(446.00 682.22) scale(0.905 1.0)" class="c13">K</text>
<text transform="translate(355.90 696.61) scale(0.905 1.0)" class="c9">76</text>
<text transform="translate(361.60 696.61) scale(0.905 1.0)" class="c10">4C</text>
<text transform="translate(382.10 696.61) scale(0.905 1.0)" class="c10">114</text>
<text transform="translate(407.20 696.61) scale(0.905 1.0)" class="c11">&amp;</text>
<text transform="translate(412.84 696.61) scale(0.905 1.0)" class="c12">#</text>
<text transform="translate(419.09 696.61) scale(0.905 1.0)" class="c10">76</text>
<text transform="translate(432.78 696.61) scale(0.905 1.0)" class="c10">;</text>
<text transform="translate(446.00 695.81) scale(0.905 1.0)" class="c13">L</text>
<text transform="translate(355.90 710.19) scale(0.905 1.0)" class="c9">77</text>
<text transform="translate(361.60 710.19) scale(0.905 1.0)" class="c10">4D</text>
<text transform="translate(382.10 710.19) scale(0.905 1.0)" class="c10">115</text>
<text transform="translate(407.20 710.19) scale(0.905 1.0)" class="c11">&amp;</text>
<text transform="translate(412.84 710.19) scale(0.905 1.0)" class="c12">#</text>
<text transform="translate(419.09 710.19) scale(0.905 1.0)" class="c10">77</text>
<text transform="translate(432.78 710.19) scale(0.905 1.0)" class="c10">;</text>
<text transform="translate(446.00 709.39) scale(0.905 1.0)" class="c13">M</text>
<text transform="translate(355.90 723.78) scale(0.905 1.0)" class="c9">78</text>
<text transform="translate(361.60 723.78) scale(0.905 1.0)" class="c10">4E</text>
<text transform="translate(382.10 723.78) scale(0.905 1.0)" class="c10">116</text>
<text transform="translate(407.20 723.78) scale(0.905 1.0)" class="c11">&amp;</text>
<text transform="translate(412.84 723.78) scale(0.905 1.0)" class="c12">#</text>
<text transform="translate(419.09 723.78) scale(0.905 1.0)" class="c10">78</text>
<text transform="translate(432.78 723.78) scale(0.905 1.0)" class="c10">;</text>
<text transform="translate(446.00 722.98) scale(0.905 1.0)" class="c13">N</text>
<text transform="translate(355.90 737.36) scale(0.905 1.0)" class="c9">79</text>
<text transform="translate(361.60 737.36) scale(0.905 1.0)" class="c10">4F</text>
<text transform="translate(382.10 737.36) scale(0.905 1.0)" class="c10">117</text>
<text transform="translate(407.20 737.36) scale(0.905 1.0)" class="c11">&amp;</text>
<text transform="translate(412.84 737.36) scale(0.905 1.0)" class="c12">#</text>
<text transform="translate(419.09 737.36) scale(0.905 1.0)" class="c10">79</text>
<text transform="translate(432.78 737.36) scale(0.905 1.0)" class="c10">;</text>
<text transform="translate(446.00 736.56) scale(0.905 1.0)" class="c13">O</text>
<text transform="translate(355.90 750.94) scale(0.905 1.0)" class="c9">80</text>
<text transform="translate(361.60 750.94) scale(0.905 1.0)" class="c10">50</text>
<text transform="translate(382.10 750.94) scale(0.905 1.0)" class="c10">120</text>
<text transform="translate(407.20 750.94) scale(0.905 1.0)" class="c11">&amp;</text>
<text transform="translate(412.84 750.94) scale(0.905 1.0)" class="c12">#</text>
<text transform="translate(419.09 750.94) scale(0.905 1.0)" class="c10">80</text>
<text transform="translate(432.78 750.94) scale(0.905 1.0)" class="c10">;</text>
<text transform="translate(446.00 750.14) scale(0.905 1.0)" class="c13">P</text>
<text transform="translate(355.90 764.53) scale(0.905 1.0)" class="c9">81</text>
<text transform="translate(361.60 764.53) scale(0.905 1.0)" class="c10">51</text>
<text transform="translate(382.10 764.53) scale(0.905 1.0)" class="c10">121</text>
<text transform="translate(407.20 764.53) scale(0.905 1.0)" class="c11">&amp;</text>
<text transform="translate(412.84 764.53) scale(0.905 1.0)" class="c12">#</text>
<text transform="translate(419.09 764.53) scale(0.905 1.0)" class="c10">81</text>
<text transform="translate(432.78 764.53) scale(0.905 1.0)" class="c10">;</text>
<text transform="translate(446.00 763.73) scale(0.905 1.0)" class="c13">Q</text>
<text transform="translate(355.90 778.11) scale(0.905 1.0)" class="c9">82</text>
<text transform="translate(361.60 778.11) scale(0.905 1.0)" class="c10">52</text>
<text transform="translate(382.10 778.11) scale(0.905 1.0)" class="c10">122</text>
<text transform="translate(407.20 778.11) scale(0.905 1.0)" class="c11">&amp;</text>
<text transform="translate(412.84 778.11) scale(0.905 1.0)" class="c12">#</text>
<text transform="translate(419.09 778.11) scale(0.905 1.0)" class="c10">82</text>
<text transform="translate(432.78 778.11) scale(0.905 1.0)" class="c10">;</text>
<text transform="translate(446.00 777.31) scale(0.905 1.0)" class="c13">R</text>
<text transform="translate(355.90 791.70) scale(0.905 1.0)" class="c9">83</text>
<text transform="translate(361.60 791.70) scale(0.905 1.0)" class="c10">53</text>
<text transform="translate(382.10 791.70) scale(0.905 1.0)" class="c10">123</text>
<text transform="translate(407.20 791.70) scale(0.905 1.0)" class="c11">&amp;</text>
<text transform="translate(412.84 791.70) scale(0.905 1.0)" class="c12">#</text>
<text transform="translate(419.09 791.70) scale(0.905 1.0)" class="c10">83</text>
<text transform="translate(432.78 791.70) scale(0.905 1.0)" class="c10">;</text>
<text transform="translate(446.00 790.90) scale(0.905 1.0)" class="c13">S</text>
<text transform="translate(355.90 805.28) scale(0.905 1.0)" class="c9">84</text>
<text transform="translate(361.60 805.28) scale(0.905 1.0)" class="c10">54</text>
<text transform="translate(382.10 805.28) scale(0.905 1.0)" class="c10">124</text>
<text transform="translate(407.20 805.28) scale(0.905 1.0)" class="c11">&amp;</text>
<text transform="translate(412.84 805.28) scale(0.905 1.0)" class="c12">#</text>
<text transform="translate(419.09 805.28) scale(0.905 1.0)" class="c10">84</text>
<text transform="translate(432.78 805.28) scale(0.905 1.0)" class="c10">;</text>
<text transform="translate(446.00 804.48) scale(0.905 1.0)" class="c13">T</text>
<text transform="translate(355.90 818.86) scale(0.905 1.0)" class="c9">85</text>
<text transform="translate(361.60 818.86) scale(0.905 1.0)" class="c10">55</text>
<text transform="translate(382.10 818.86) scale(0.905 1.0)" class="c10">125</text>
<text transform="translate(407.20 818.86) scale(0.905 1.0)" class="c11">&amp;</text>
<text transform="translate(412.84 818.86) scale(0.905 1.0)" class="c12">#</text>
<text transform="translate(419.09 818.86) scale(0.905 1.0)" class="c10">85</text>
<text transform="translate(432.78 818.86) scale(0.905 1.0)" class="c10">;</text>
<text transform="translate(446.00 818.06) scale(0.905 1.0)" class="c13">U</text>
<text transform="translate(355.90 832.45) scale(0.905 1.0)" class="c9">86</text>
<text transform="translate(361.60 832.45) scale(0.905 1.0)" class="c10">56</text>
<text transform="translate(382.10 832.45) scale(0.905 1.0)" class="c10">126</text>
<text transform="translate(407.20 832.45) scale(0.905 1.0)" class="c11">&amp;</text>
<text transform="translate(412.84 832.45) scale(0.905 1.0)" class="c12">#</text>
<text transform="translate(419.09 832.45) scale(0.905 1.0)" class="c10">86</text>
<text transform="translate(432.78 832.45) scale(0.905 1.0)" class="c10">;</text>
<text transform="translate(446.00 831.65) scale(0.905 1.0)" class="c13">V</text>
<text transform="translate(355.90 846.03) scale(0.905 1.0)" class="c9">87</text>
<text transform="translate(361.60 846.03) scale(0.905 1.0)" class="c10">57</text>
<text transform="translate(382.10 846.03) scale(0.905 1.0)" class="c10">127</text>
<text transform="translate(407.20 846.03) scale(0.905 1.0)" class="c11">&amp;</text>
<text transform="translate(412.84 846.03) scale(0.905 1.0)" class="c12">#</text>
<text transform="translate(419.09 846.03) scale(0.905 1.0)" class="c10">87</text>
<text transform="translate(432.78 846.03) scale(0.905 1.0)" class="c10">;</text>
<text transform="translate(446.00 845.23) scale(0.905 1.0)" class="c13">W</text>
<text transform="translate(355.90 859.62) scale(0.905 1.0)" class="c9">88</text>
<text transform="translate(361.60 859.62) scale(0.905 1.0)" class="c10">58</text>
<text transform="translate(382.10 859.62) scale(0.905 1.0)" class="c10">130</text>
<text transform="translate(407.20 859.62) scale(0.905 1.0)" class="c11">&amp;</text>
<text transform="translate(412.84 859.62) scale(0.905 1.0)" class="c12">#</text>
<text transform="translate(419.09 859.62) scale(0.905 1.0)" class="c10">88</text>
<text transform="translate(432.78 859.62) scale(0.905 1.0)" class="c10">;</text>
<text transform="translate(446.00 858.82) scale(0.905 1.0)" class="c13">X</text>
<text transform="translate(355.90 873.20) scale(0.905 1.0)" class="c9">89</text>
<text transform="translate(361.60 873.20) scale(0.905 1.0)" class="c10">59</text>
<text transform="translate(382.10 873.20) scale(0.905 1.0)" class="c10">131</text>
<text transform="translate(407.20 873.20) scale(0.905 1.0)" class="c11">&amp;</text>
<text transform="translate(412.84 873.20) scale(0.905 1.0)" class="c12">#</text>
<text transform="translate(419.09 873.20) scale(0.905 1.0)" class="c10">89</text>
<text transform="translate(432.78 873.20) scale(0.905 1.0)" class="c10">;</text>
<text transform="translate(446.00 872.40) scale(0.905 1.0)" class="c13">Y</text>
<text transform="translate(355.90 886.78) scale(0.905 1.0)" class="c9">90</text>
<text transform="translate(361.60 886.78) scale(0.905 1.0)" class="c10">5A</text>
<text transform="translate(382.10 886.78) scale(0.905 1.0)" class="c10">132</text>
<text transform="translate(407.20 886.78) scale(0.905 1.0)" class="c11">&amp;</text>
<text transform="translate(412.84 886.78) scale(0.905 1.0)" class="c12">#</text>
<text transform="translate(419.09 886.78) scale(0.905 1.0)" class="c10">90</text>
<text transform="translate(432.78 886.78) scale(0.905 1.0)" class="c10">;</text>
<text transform="translate(446.00 885.98) scale(0.905 1.0)" class="c13">Z</text>
<text transform="translate(355.90 900.37) scale(0.905 1.0)" class="c9">91</text>
<text transform="translate(361.60 900.37) scale(0.905 1.0)" class="c10">5B</text>
<text transform="translate(382.10 900.37) scale(0.905 1.0)" class="c10">133</text>
<text transform="translate(407.20 900.37) scale(0.905 1.0)" class="c11">&amp;</text>
<text transform="translate(412.84 900.37) scale(0.905 1.0)" class="c12">#</text>
<text transform="translate(419.09 900.37) scale(0.905 1.0)" class="c10">91</text>
<text transform="translate(432.78 900.37) scale(0.905 1.0)" class="c10">;</text>
<text transform="translate(446.00 899.57) scale(0.905 1.0)" class="c13">[</text>
<text transform="translate(355.90 913.95) scale(0.905 1.0)" class="c9">92</text>
<text transform="translate(361.60 913.95) scale(0.905 1.0)" class="c10">5C</text>
<text transform="translate(382.10 913.95) scale(0.905 1.0)" class="c10">134</text>
<text transform="translate(407.20 913.95) scale(0.905 1.0)" class="c11">&amp;</text>
<text transform="translate(412.84 913.95) scale(0.905 1.0)" class="c12">#</text>
<text transform="translate(419.09 913.95) scale(0.905 1.0)" class="c10">92</text>
<text transform="translate(432.78 913.95) scale(0.905 1.0)" class="c10">;</text>
<text transform="translate(446.00 913.15) scale(0.905 1.0)" class="c13">\</text>
<text transform="translate(355.90 927.54) scale(0.905 1.0)" class="c9">93</text>
<text transform="translate(361.60 927.54) scale(0.905 1.0)" class="c10">5D</text>
<text transform="translate(382.10 927.54) scale(0.905 1.0)" class="c10">135</text>
<text transform="translate(407.20 927.54) scale(0.905 1.0)" class="c11">&amp;</text>
<text transform="translate(412.84 927.54) scale(0.905 1.0)" class="c12">#</text>
<text transform="translate(419.09 927.54) scale(0.905 1.0)" class="c10">93</text>
<text transform="translate(432.78 927.54) scale(0.905 1.0)" class="c10">;</text>
<text transform="translate(446.00 926.74) scale(0.905 1.0)" class="c13">]</text>
<text transform="translate(355.90 941.12) scale(0.905 1.0)" class="c9">94</text>
<text transform="translate(361.60 941.12) scale(0.905 1.0)" class="c10">5E</text>
<text transform="translate(382.10 941.12) scale(0.905 1.0)" class="c10">136</text>
<text transform="translate(407.20 941.12) scale(0.905 1.0)" class="c11">&amp;</text>
<text transform="translate(412.84 941.12) scale(0.905 1.0)" class="c12">#</text>
<text transform="translate(419.09 941.12) scale(0.905 1.0)" class="c10">94</text>
<text transform="translate(432.78 941.12) scale(0.905 1.0)" class="c10">;</text>
<text transform="translate(446.00 940.32) scale(0.905 1.0)" class="c13">^</text>
<text transform="translate(355.90 954.70) scale(0.905 1.0)" class="c9">95</text>
<text transform="translate(361.60 954.70) scale(0.905 1.0)" class="c10">5F</text>
<text transform="translate(382.10 954.70) scale(0.905 1.0)" class="c10">137</text>
<text transform="translate(407.20 954.70) scale(0.905 1.0)" class="c11">&amp;</text>
<text transform="translate(412.84 954.70) scale(0.905 1.0)" class="c12">#</text>
<text transform="translate(419.09 954.70) scale(0.905 1.0)" class="c10">95</text>
<text transform="translate(432.78 954.70) scale(0.905 1.0)" class="c10">;</text>
<text transform="translate(446.00 953.90) scale(0.905 1.0)" class="c13">_</text>
<text transform="translate(483.60 533.60) scale(0.905 1.0)" class="c9">96</text>
<text transform="translate(491.00 533.60) scale(0.905 1.0)" class="c10">60</text>
<text transform="translate(510.60 533.60) scale(0.905 1.0)" class="c10">140</text>
<text transform="translate(539.20 533.60) scale(0.905 1.0)" class="c11">&amp;</text>
<text transform="translate(544.84 533.60) scale(0.905 1.0)" class="c12">#</text>
<text transform="translate(551.09 533.60) scale(0.905 1.0)" class="c10">96</text>
<text transform="translate(564.78 533.60) scale(0.905 1.0)" class="c10">;</text>
<text transform="translate(583.00 532.80) scale(0.905 1.0)" class="c13">`</text>
<text transform="translate(483.60 547.18) scale(0.905 1.0)" class="c9">97</text>
<text transform="translate(491.00 547.18) scale(0.905 1.0)" class="c10">61</text>
<text transform="translate(510.60 547.18) scale(0.905 1.0)" class="c10">141</text>
<text transform="translate(539.20 547.18) scale(0.905 1.0)" class="c11">&amp;</text>
<text transform="translate(544.84 547.18) scale(0.905 1.0)" class="c12">#</text>
<text transform="translate(551.09 547.18) scale(0.905 1.0)" class="c10">97</text>
<text transform="translate(564.78 547.18) scale(0.905 1.0)" class="c10">;</text>
<text transform="translate(583.00 546.38) scale(0.905 1.0)" class="c13">a</text>
<text transform="translate(483.60 560.77) scale(0.905 1.0)" class="c9">98</text>
<text transform="translate(491.00 560.77) scale(0.905 1.0)" class="c10">62</text>
<text transform="translate(510.60 560.77) scale(0.905 1.0)" class="c10">142</text>
<text transform="translate(539.20 560.77) scale(0.905 1.0)" class="c11">&amp;</text>
<text transform="translate(544.84 560.77) scale(0.905 1.0)" class="c12">#</text>
<text transform="translate(551.09 560.77) scale(0.905 1.0)" class="c10">98</text>
<text transform="translate(564.78 560.77) scale(0.905 1.0)" class="c10">;</text>
<text transform="translate(583.00 559.97) scale(0.905 1.0)" class="c13">b</text>
<text transform="translate(483.60 574.35) scale(0.905 1.0)" class="c9">99</text>
<text transform="translate(491.00 574.35) scale(0.905 1.0)" class="c10">63</text>
<text transform="translate(510.60 574.35) scale(0.905 1.0)" class="c10">143</text>
<text transform="translate(539.20 574.35) scale(0.905 1.0)" class="c11">&amp;</text>
<text transform="translate(544.84 574.35) scale(0.905 1.0)" class="c12">#</text>
<text transform="translate(551.09 574.35) scale(0.905 1.0)" class="c10">99</text>
<text transform="translate(564.78 574.35) scale(0.905 1.0)" class="c10">;</text>
<text transform="translate(583.00 573.55) scale(0.905 1.0)" class="c13">c</text>
<text transform="translate(483.60 587.94) scale(0.905 1.0)" class="c9">100</text>
<text transform="translate(491.00 587.94) scale(0.905 1.0)" class="c10">64</text>
<text transform="translate(510.60 587.94) scale(0.905 1.0)" class="c10">144</text>
<text transform="translate(539.20 587.94) scale(0.905 1.0)" class="c11">&amp;</text>
<text transform="translate(544.84 587.94) scale(0.905 1.0)" class="c12">#</text>
<text transform="translate(551.09 587.94) scale(0.905 1.0)" class="c10">100</text>
<text transform="translate(571.02 587.94) scale(0.905 1.0)" class="c10">;</text>
<text transform="translate(583.00 587.14) scale(0.905 1.0)" class="c13">d</text>
<text transform="translate(483.60 601.52) scale(0.905 1.0)" class="c9">101</text>
<text transform="translate(491.00 601.52) scale(0.905 1.0)" class="c10">65</text>
<text transform="translate(510.60 601.52) scale(0.905 1.0)" class="c10">145</text>
<text transform="translate(539.20 601.52) scale(0.905 1.0)" class="c11">&amp;</text>
<text transform="translate(544.84 601.52) scale(0.905 1.0)" class="c12">#</text>
<text transform="translate(551.09 601.52) scale(0.905 1.0)" class="c10">101</text>
<text transform="translate(571.02 601.52) scale(0.905 1.0)" class="c10">;</text>
<text transform="translate(583.00 600.72) scale(0.905 1.0)" class="c13">e</text>
<text transform="translate(483.60 615.10) scale(0.905 1.0)" class="c9">102</text>
<text transform="translate(491.00 615.10) scale(0.905 1.0)" class="c10">66</text>
<text transform="translate(510.60 615.10) scale(0.905 1.0)" class="c10">146</text>
<text transform="translate(539.20 615.10) scale(0.905 1.0)" class="c11">&amp;</text>
<text transform="translate(544.84 615.10) scale(0.905 1.0)" class="c12">#</text>
<text transform="translate(551.09 615.10) scale(0.905 1.0)" class="c10">102</text>
<text transform="translate(571.02 615.10) scale(0.905 1.0)" class="c10">;</text>
<text transform="translate(583.00 614.30) scale(0.905 1.0)" class="c13">f</text>
<text transform="translate(483.60 628.69) scale(0.905 1.0)" class="c9">103</text>
<text transform="translate(491.00 628.69) scale(0.905 1.0)" class="c10">67</text>
<text transform="translate(510.60 628.69) scale(0.905 1.0)" class="c10">147</text>
<text transform="translate(539.20 628.69) scale(0.905 1.0)" class="c11">&amp;</text>
<text transform="translate(544.84 628.69) scale(0.905 1.0)" class="c12">#</text>
<text transform="translate(551.09 628.69) scale(0.905 1.0)" class="c10">103</text>
<text transform="translate(571.02 628.69) scale(0.905 1.0)" class="c10">;</text>
<text transform="translate(583.00 627.89) scale(0.905 1.0)" class="c13">g</text>
<text transform="translate(483.60 642.27) scale(0.905 1.0)" class="c9">104</text>
<text transform="translate(491.00 642.27) scale(0.905 1.0)" class="c10">68</text>
<text transform="translate(510.60 642.27) scale(0.905 1.0)" class="c10">150</text>
<text transform="translate(539.20 642.27) scale(0.905 1.0)" class="c11">&amp;</text>
<text transform="translate(544.84 642.27) scale(0.905 1.0)" class="c12">#</text>
<text transform="translate(551.09 642.27) scale(0.905 1.0)" class="c10">104</text>
<text transform="translate(571.02 642.27) scale(0.905 1.0)" class="c10">;</text>
<text transform="translate(583.00 641.47) scale(0.905 1.0)" class="c13">h</text>
<text transform="translate(483.60 655.86) scale(0.905 1.0)" class="c9">105</text>
<text transform="translate(491.00 655.86) scale(0.905 1.0)" class="c10">69</text>
<text transform="translate(510.60 655.86) scale(0.905 1.0)" class="c10">151</text>
<text transform="translate(539.20 655.86) scale(0.905 1.0)" class="c11">&amp;</text>
<text transform="translate(544.84 655.86) scale(0.905 1.0)" class="c12">#</text>
<text transform="translate(551.09 655.86) scale(0.905 1.0)" class="c10">105</text>
<text transform="translate(571.02 655.86) scale(0.905 1.0)" class="c10">;</text>
<text transform="translate(583.00 655.06) scale(0.905 1.0)" class="c13">i</text>
<text transform="translate(483.60 669.44) scale(0.905 1.0)" class="c9">106</text>
<text transform="translate(491.00 669.44) scale(0.905 1.0)" class="c10">6A</text>
<text transform="translate(510.60 669.44) scale(0.905 1.0)" class="c10">152</text>
<text transform="translate(539.20 669.44) scale(0.905 1.0)" class="c11">&amp;</text>
<text transform="translate(544.84 669.44) scale(0.905 1.0)" class="c12">#</text>
<text transform="translate(551.09 669.44) scale(0.905 1.0)" class="c10">106</text>
<text transform="translate(571.02 669.44) scale(0.905 1.0)" class="c10">;</text>
<text transform="translate(583.00 668.64) scale(0.905 1.0)" class="c13">j</text>
<text transform="translate(483.60 683.02) scale(0.905 1.0)" class="c9">107</text>
<text transform="translate(491.00 683.02) scale(0.905 1.0)" class="c10">6B</text>
<text transform="translate(510.60 683.02) scale(0.905 1.0)" class="c10">153</text>
<text transform="translate(539.20 683.02) scale(0.905 1.0)" class="c11">&amp;</text>
<text transform="translate(544.84 683.02) scale(0.905 1.0)" class="c12">#</text>
<text transform="translate(551.09 683.02) scale(0.905 1.0)" class="c10">107</text>
<text transform="translate(571.02 683.02) scale(0.905 1.0)" class="c10">;</text>
<text transform="translate(583.00 682.22) scale(0.905 1.0)" class="c13">k</text>
<text transform="translate(483.60 696.61) scale(0.905 1.0)" class="c9">108</text>
<text transform="translate(491.00 696.61) scale(0.905 1.0)" class="c10">6C</text>
<text transform="translate(510.60 696.61) scale(0.905 1.0)" class="c10">154</text>
<text transform="translate(539.20 696.61) scale(0.905 1.0)" class="c11">&amp;</text>
<text transform="translate(544.84 696.61) scale(0.905 1.0)" class="c12">#</text>
<text transform="translate(551.09 696.61) scale(0.905 1.0)" class="c10">108</text>
<text transform="translate(571.02 696.61) scale(0.905 1.0)" class="c10">;</text>
<text transform="translate(583.00 695.81) scale(0.905 1.0)" class="c13">l</text>
<text transform="translate(483.60 710.19) scale(0.905 1.0)" class="c9">109</text>
<text transform="translate(491.00 710.19) scale(0.905 1.0)" class="c10">6D</text>
<text transform="translate(510.60 710.19) scale(0.905 1.0)" class="c10">155</text>
<text transform="translate(539.20 710.19) scale(0.905 1.0)" class="c11">&amp;</text>
<text transform="translate(544.84 710.19) scale(0.905 1.0)" class="c12">#</text>
<text transform="translate(551.09 710.19) scale(0.905 1.0)" class="c10">109</text>
<text transform="translate(571.02 710.19) scale(0.905 1.0)" class="c10">;</text>
<text transform="translate(583.00 709.39) scale(0.905 1.0)" class="c13">m</text>
<text transform="translate(483.60 723.78) scale(0.905 1.0)" class="c9">110</text>
<text transform="translate(491.00 723.78) scale(0.905 1.0)" class="c10">6E</text>
<text transform="translate(510.60 723.78) scale(0.905 1.0)" class="c10">156</text>
<text transform="translate(539.20 723.78) scale(0.905 1.0)" class="c11">&amp;</text>
<text transform="translate(544.84 723.78) scale(0.905 1.0)" class="c12">#</text>
<text transform="translate(551.09 723.78) scale(0.905 1.0)" class="c10">110</text>
<text transform="translate(571.02 723.78) scale(0.905 1.0)" class="c10">;</text>
<text transform="translate(583.00 722.98) scale(0.905 1.0)" class="c13">n</text>
<text transform="translate(483.60 737.36) scale(0.905 1.0)" class="c9">111</text>
<text transform="translate(491.00 737.36) scale(0.905 1.0)" class="c10">6F</text>
<text transform="translate(510.60 737.36) scale(0.905 1.0)" class="c10">157</text>
<text transform="translate(539.20 737.36) scale(0.905 1.0)" class="c11">&amp;</text>
<text transform="translate(544.84 737.36) scale(0.905 1.0)" class="c12">#</text>
<text transform="translate(551.09 737.36) scale(0.905 1.0)" class="c10">111</text>
<text transform="translate(571.02 737.36) scale(0.905 1.0)" class="c10">;</text>
<text transform="translate(583.00 736.56) scale(0.905 1.0)" class="c13">o</text>
<text transform="translate(483.60 750.94) scale(0.905 1.0)" class="c9">112</text>
<text transform="translate(491.00 750.94) scale(0.905 1.0)" class="c10">70</text>
<text transform="translate(510.60 750.94) scale(0.905 1.0)" class="c10">160</text>
<text transform="translate(539.20 750.94) scale(0.905 1.0)" class="c11">&amp;</text>
<text transform="translate(544.84 750.94) scale(0.905 1.0)" class="c12">#</text>
<text transform="translate(551.09 750.94) scale(0.905 1.0)" class="c10">112</text>
<text transform="translate(571.02 750.94) scale(0.905 1.0)" class="c10">;</text>
<text transform="translate(583.00 750.14) scale(0.905 1.0)" class="c13">p</text>
<text transform="translate(483.60 764.53) scale(0.905 1.0)" class="c9">113</text>
<text transform="translate(491.00 764.53) scale(0.905 1.0)" class="c10">71</text>
<text transform="translate(510.60 764.53) scale(0.905 1.0)" class="c10">161</text>
<text transform="translate(539.20 764.53) scale(0.905 1.0)" class="c11">&amp;</text>
<text transform="translate(544.84 764.53) scale(0.905 1.0)" class="c12">#</text>
<text transform="translate(551.09 764.53) scale(0.905 1.0)" class="c10">113</text>
<text transform="translate(571.02 764.53) scale(0.905 1.0)" class="c10">;</text>
<text transform="translate(583.00 763.73) scale(0.905 1.0)" class="c13">q</text>
<text transform="translate(483.60 778.11) scale(0.905 1.0)" class="c9">114</text>
<text transform="translate(491.00 778.11) scale(0.905 1.0)" class="c10">72</text>
<text transform="translate(510.60 778.11) scale(0.905 1.0)" class="c10">162</text>
<text transform="translate(539.20 778.11) scale(0.905 1.0)" class="c11">&amp;</text>
<text transform="translate(544.84 778.11) scale(0.905 1.0)" class="c12">#</text>
<text transform="translate(551.09 778.11) scale(0.905 1.0)" class="c10">114</text>
<text transform="translate(571.02 778.11) scale(0.905 1.0)" class="c10">;</text>
<text transform="translate(583.00 777.31) scale(0.905 1.0)" class="c13">r</text>
<text transform="translate(483.60 791.70) scale(0.905 1.0)" class="c9">115</text>
<text transform="translate(491.00 791.70) scale(0.905 1.0)" class="c10">73</text>
<text transform="translate(510.60 791.70) scale(0.905 1.0)" class="c10">163</text>
<text transform="translate(539.20 791.70) scale(0.905 1.0)" class="c11">&amp;</text>
<text transform="translate(544.84 791.70) scale(0.905 1.0)" class="c12">#</text>
<text transform="translate(551.09 791.70) scale(0.905 1.0)" class="c10">115</text>
<text transform="translate(571.02 791.70) scale(0.905 1.0)" class="c10">;</text>
<text transform="translate(583.00 790.90) scale(0.905 1.0)" class="c13">s</text>
<text transform="translate(483.60 805.28) scale(0.905 1.0)" class="c9">116</text>
<text transform="translate(491.00 805.28) scale(0.905 1.0)" class="c10">74</text>
<text transform="translate(510.60 805.28) scale(0.905 1.0)" class="c10">164</text>
<text transform="translate(539.20 805.28) scale(0.905 1.0)" class="c11">&amp;</text>
<text transform="translate(544.84 805.28) scale(0.905 1.0)" class="c12">#</text>
<text transform="translate(551.09 805.28) scale(0.905 1.0)" class="c10">116</text>
<text transform="translate(571.02 805.28) scale(0.905 1.0)" class="c10">;</text>
<text transform="translate(583.00 804.48) scale(0.905 1.0)" class="c13">t</text>
<text transform="translate(483.60 818.86) scale(0.905 1.0)" class="c9">117</text>
<text transform="translate(491.00 818.86) scale(0.905 1.0)" class="c10">75</text>
<text transform="translate(510.60 818.86) scale(0.905 1.0)" class="c10">165</text>
<text transform="translate(539.20 818.86) scale(0.905 1.0)" class="c11">&amp;</text>
<text transform="translate(544.84 818.86) scale(0.905 1.0)" class="c12">#</text>
<text transform="translate(551.09 818.86) scale(0.905 1.0)" class="c10">117</text>
<text transform="translate(571.02 818.86) scale(0.905 1.0)" class="c10">;</text>
<text transform="translate(583.00 818.06) scale(0.905 1.0)" class="c13">u</text>
<text transform="translate(483.60 832.45) scale(0.905 1.0)" class="c9">118</text>
<text transform="translate(491.00 832.45) scale(0.905 1.0)" class="c10">76</text>
<text transform="translate(510.60 832.45) scale(0.905 1.0)" class="c10">166</text>
<text transform="translate(539.20 832.45) scale(0.905 1.0)" class="c11">&amp;</text>
<text transform="translate(544.84 832.45) scale(0.905 1.0)" class="c12">#</text>
<text transform="translate(551.09 832.45) scale(0.905 1.0)" class="c10">118</text>
<text transform="translate(571.02 832.45) scale(0.905 1.0)" class="c10">;</text>
<text transform="translate(583.00 831.65) scale(0.905 1.0)" class="c13">v</text>
<text transform="translate(483.60 846.03) scale(0.905 1.0)" class="c9">119</text>
<text transform="translate(491.00 846.03) scale(0.905 1.0)" class="c10">77</text>
<text transform="translate(510.60 846.03) scale(0.905 1.0)" class="c10">167</text>
<text transform="translate(539.20 846.03) scale(0.905 1.0)" class="c11">&amp;</text>
<text transform="translate(544.84 846.03) scale(0.905 1.0)" class="c12">#</text>
<text transform="translate(551.09 846.03) scale(0.905 1.0)" class="c10">119</text>
<text transform="translate(571.02 846.03) scale(0.905 1.0)" class="c10">;</text>
<text transform="translate(583.00 845.23) scale(0.905 1.0)" class="c13">w</text>
<text transform="translate(483.60 859.62) scale(0.905 1.0)" class="c9">120</text>
<text transform="translate(491.00 859.62) scale(0.905 1.0)" class="c10">78</text>
<text transform="translate(510.60 859.62) scale(0.905 1.0)" class="c10">170</text>
<text transform="translate(539.20 859.62) scale(0.905 1.0)" class="c11">&amp;</text>
<text transform="translate(544.84 859.62) scale(0.905 1.0)" class="c12">#</text>
<text transform="translate(551.09 859.62) scale(0.905 1.0)" class="c10">120</text>
<text transform="translate(571.02 859.62) scale(0.905 1.0)" class="c10">;</text>
<text transform="translate(583.00 858.82) scale(0.905 1.0)" class="c13">x</text>
<text transform="translate(483.60 873.20) scale(0.905 1.0)" class="c9">121</text>
<text transform="translate(491.00 873.20) scale(0.905 1.0)" class="c10">79</text>
<text transform="translate(510.60 873.20) scale(0.905 1.0)" class="c10">171</text>
<text transform="translate(539.20 873.20) scale(0.905 1.0)" class="c11">&amp;</text>
<text transform="translate(544.84 873.20) scale(0.905 1.0)" class="c12">#</text>
<text transform="translate(551.09 873.20) scale(0.905 1.0)" class="c10">121</text>
<text transform="translate(571.02 873.20) scale(0.905 1.0)" class="c10">;</text>
<text transform="translate(583.00 872.40) scale(0.905 1.0)" class="c13">y</text>
<text transform="translate(483.60 886.78) scale(0.905 1.0)" class="c9">122</text>
<text transform="translate(491.00 886.78) scale(0.905 1.0)" class="c10">7A</text>
<text transform="translate(510.60 886.78) scale(0.905 1.0)" class="c10">172</text>
<text transform="translate(539.20 886.78) scale(0.905 1.0)" class="c11">&amp;</text>
<text transform="translate(544.84 886.78) scale(0.905 1.0)" class="c12">#</text>
<text transform="translate(551.09 886.78) scale(0.905 1.0)" class="c10">122</text>
<text transform="translate(571.02 886.78) scale(0.905 1.0)" class="c10">;</text>
<text transform="translate(583.00 885.98) scale(0.905 1.0)" class="c13">z</text>
<text transform="translate(483.60 900.37) scale(0.905 1.0)" class="c9">123</text>
<text transform="translate(491.00 900.37) scale(0.905 1.0)" class="c10">7B</text>
<text transform="translate(510.60 900.37) scale(0.905 1.0)" class="c10">173</text>
<text transform="translate(539.20 900.37) scale(0.905 1.0)" class="c11">&amp;</text>
<text transform="translate(544.84 900.37) scale(0.905 1.0)" class="c12">#</text>
<text transform="translate(551.09 900.37) scale(0.905 1.0)" class="c10">123</text>
<text transform="translate(571.02 900.37) scale(0.905 1.0)" class="c10">;</text>
<text transform="translate(583.00 899.57) scale(0.905 1.0)" class="c13">{</text>
<text transform="translate(483.60 913.95) scale(0.905 1.0)" class="c9">124</text>
<text transform="translate(491.00 913.95) scale(0.905 1.0)" class="c10">7C</text>
<text transform="translate(510.60 913.95) scale(0.905 1.0)" class="c10">174</text>
<text transform="translate(539.20 913.95) scale(0.905 1.0)" class="c11">&amp;</text>
<text transform="translate(544.84 913.95) scale(0.905 1.0)" class="c12">#</text>
<text transform="translate(551.09 913.95) scale(0.905 1.0)" class="c10">124</text>
<text transform="translate(571.02 913.95) scale(0.905 1.0)" class="c10">;</text>
<text transform="translate(583.00 913.15) scale(0.905 1.0)" class="c13">|</text>
<text transform="translate(483.60 927.54) scale(0.905 1.0)" class="c9">125</text>
<text transform="translate(491.00 927.54) scale(0.905 1.0)" class="c10">7D</text>
<text transform="translate(510.60 927.54) scale(0.905 1.0)" class="c10">175</text>
<text transform="translate(539.20 927.54) scale(0.905 1.0)" class="c11">&amp;</text>
<text transform="translate(544.84 927.54) scale(0.905 1.0)" class="c12">#</text>
<text transform="translate(551.09 927.54) scale(0.905 1.0)" class="c10">125</text>
<text transform="translate(571.02 927.54) scale(0.905 1.0)" class="c10">;</text>
<text transform="translate(583.00 926.74) scale(0.905 1.0)" class="c13">}</text>
<text transform="translate(483.60 941.12) scale(0.905 1.0)" class="c9">126</text>
<text transform="translate(491.00 941.12) scale(0.905 1.0)" class="c10">7E</text>
<text transform="translate(510.60 941.12) scale(0.905 1.0)" class="c10">176</text>
<text transform="translate(539.20 941.12) scale(0.905 1.0)" class="c11">&amp;</text>
<text transform="translate(544.84 941.12) scale(0.905 1.0)" class="c12">#</text>
<text transform="translate(551.09 941.12) scale(0.905 1.0)" class="c10">126</text>
<text transform="translate(571.02 941.12) scale(0.905 1.0)" class="c10">;</text>
<text transform="translate(583.00 940.32) scale(0.905 1.0)" class="c13">~</text>
<text transform="translate(483.60 954.70) scale(0.905 1.0)" class="c9">127</text>
<text transform="translate(491.00 954.70) scale(0.905 1.0)" class="c10">7F</text>
<text transform="translate(510.60 954.70) scale(0.905 1.0)" class="c10">177</text>
<text transform="translate(539.20 954.70) scale(0.905 1.0)" class="c11">&amp;</text>
<text transform="translate(544.84 954.70) scale(0.905 1.0)" class="c12">#</text>
<text transform="translate(551.09 954.70) scale(0.905 1.0)" class="c10">127</text>
<text transform="translate(571.02 954.70) scale(0.905 1.0)" class="c10">;</text>
<text transform="translate(583.00 953.90) scale(0.905 1.0)" class="c14">DEL</text>
<rect x="273.5" y="518.5" width="15.00" height="436.00" fill="none" stroke="#cc1c1c" stroke-width="1.05"/>
<rect x="418.5" y="518.5" width="15.00" height="436.00" fill="none" stroke="#cc1c1c" stroke-width="1.05"/>
<rect x="548.5" y="518.5" width="21.00" height="436.00" fill="none" stroke="#cc1c1c" stroke-width="1.05"/>
</svg></body></html>
